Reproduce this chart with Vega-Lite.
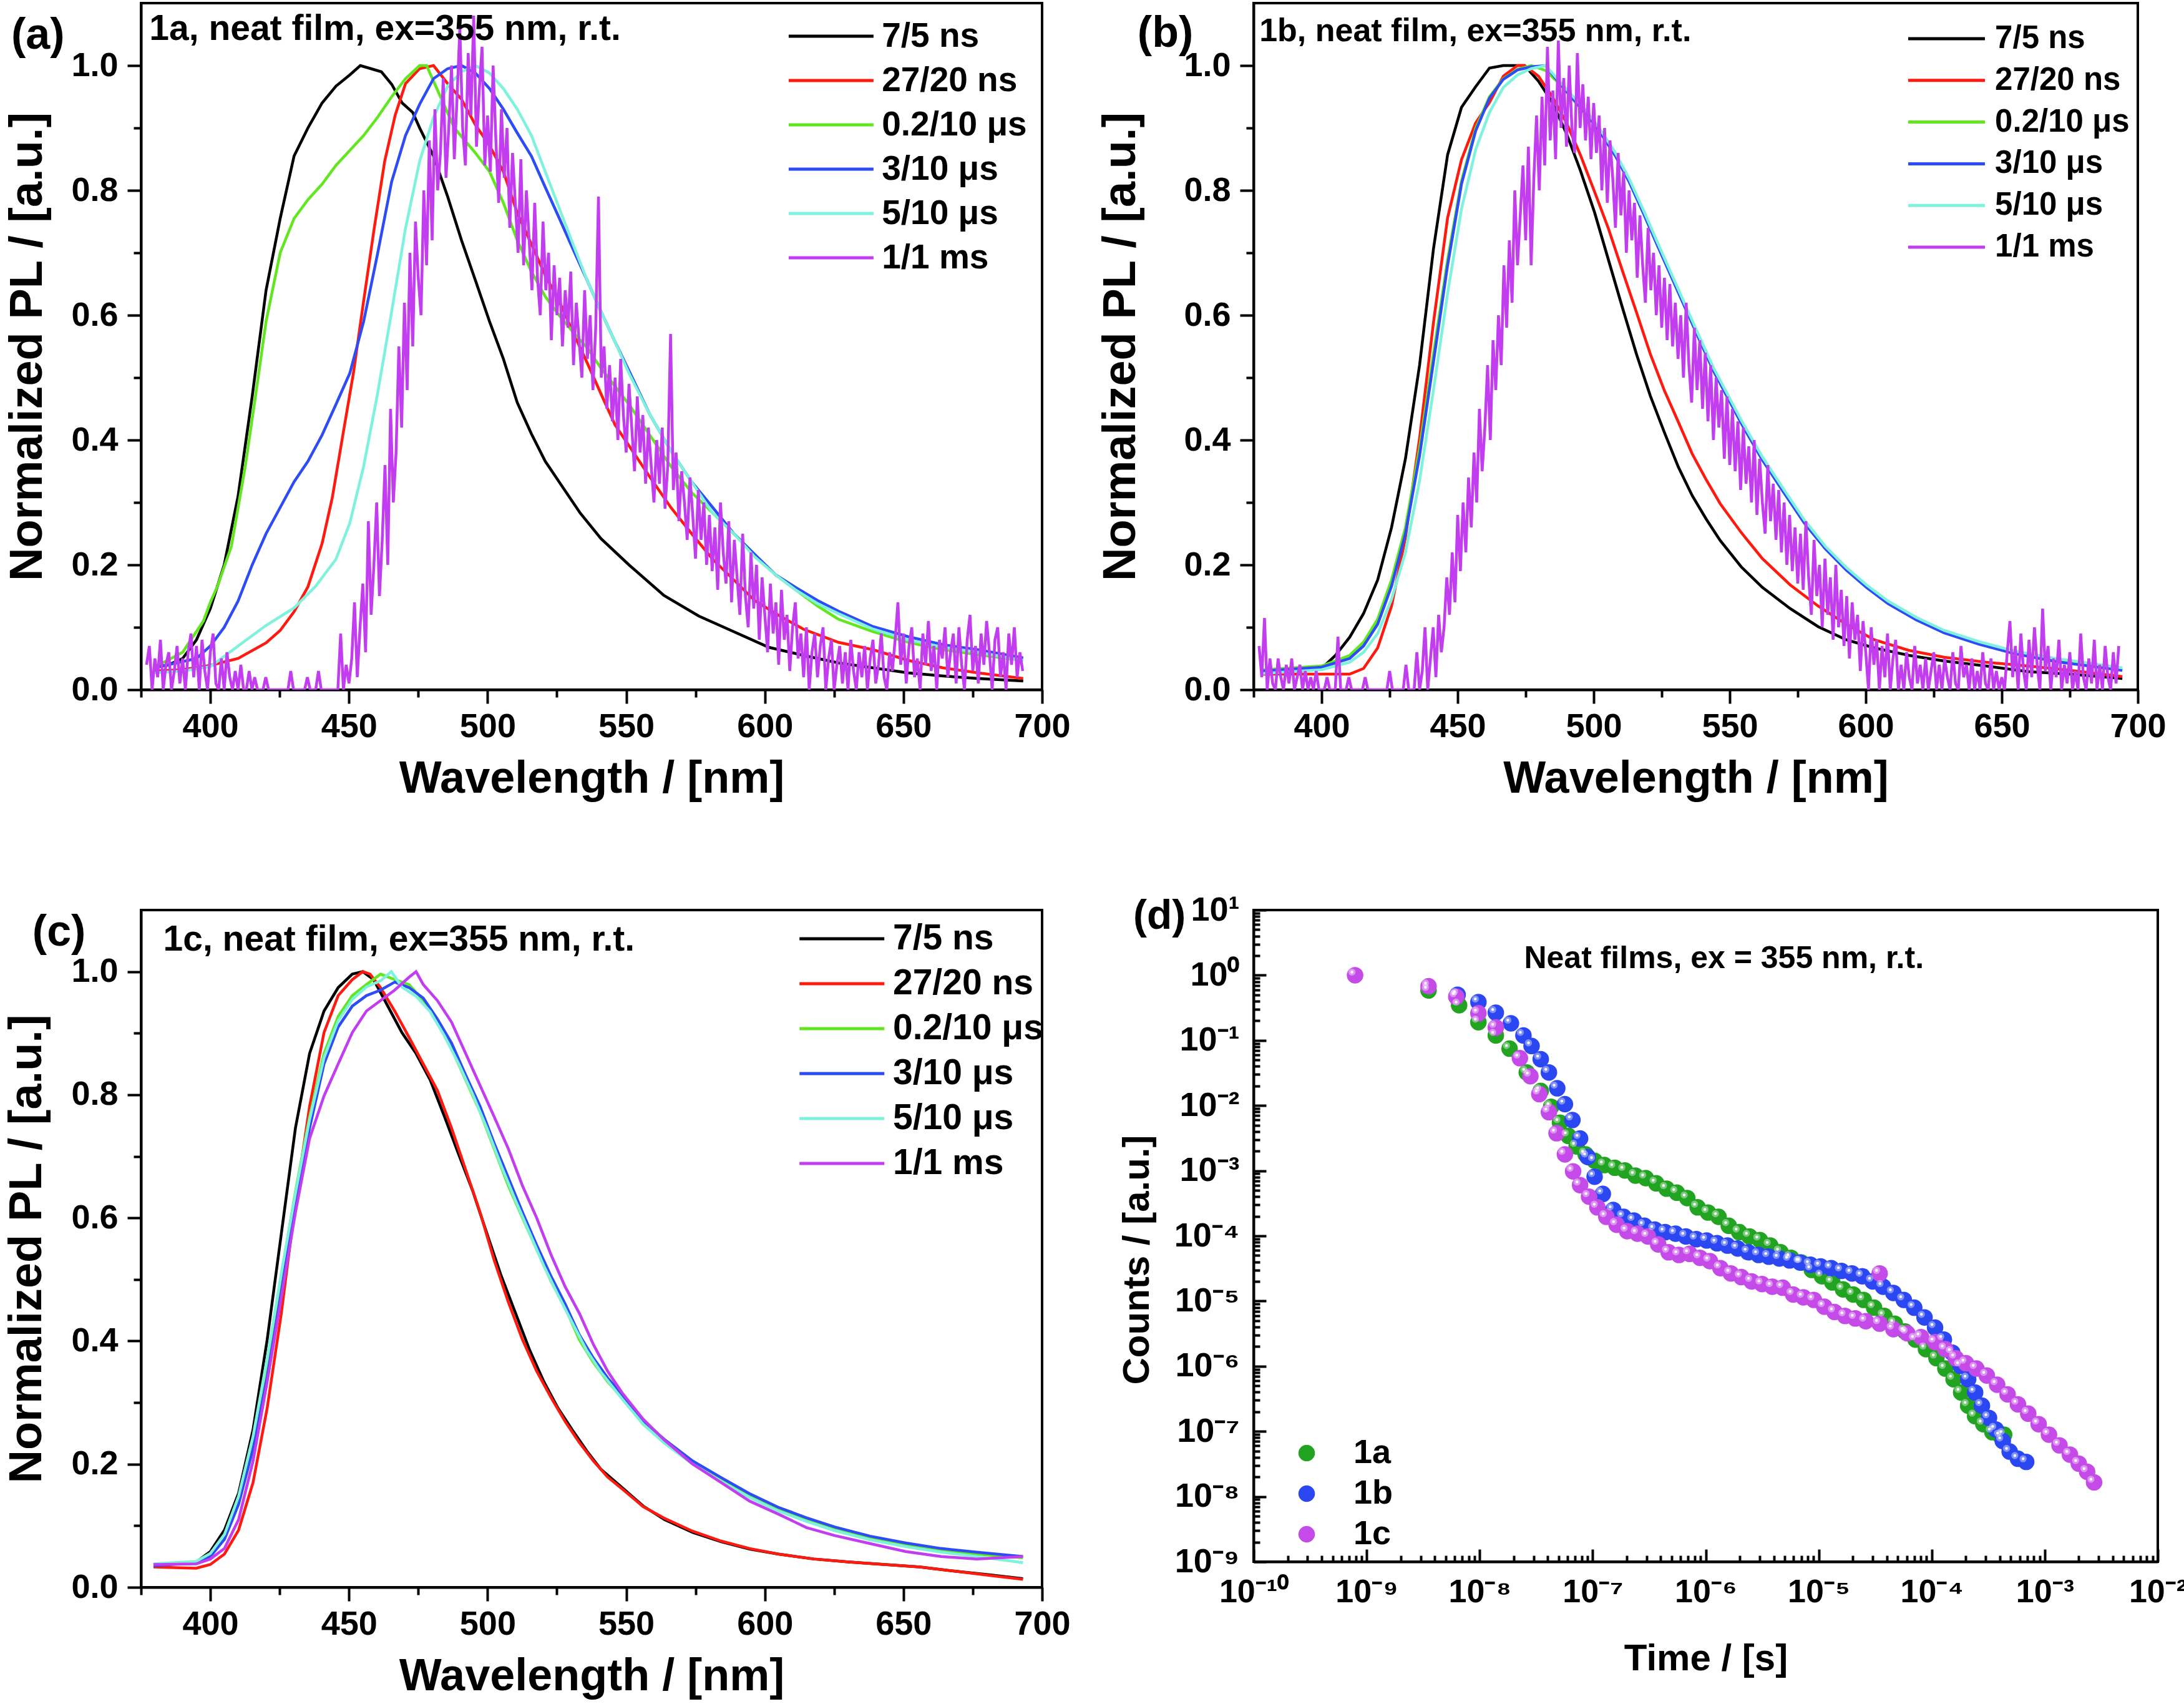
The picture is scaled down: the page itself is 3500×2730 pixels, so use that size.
{
"$schema": "https://vega.github.io/schema/vega-lite/v6.json",
"background": "white",
"padding": {"left": 4, "top": 3, "right": 2, "bottom": 2},
"bounds": "flush",
"columns": 2,
"align": "each",
"center": {"row": true, "column": false},
"spacing": {"row": 353, "column": 339},
"resolve": {"scale": {"color": "independent"}, "legend": {"color": "independent"}},
"datasets": {
"leg": [{"s":"7/5 ns"},{"s":"27/20 ns"},{"s":"0.2/10 μs"},{"s":"3/10 μs"},{"s":"5/10 μs"},{"s":"1/1 ms"}],
"a": [
{"s":"7/5 ns","x":379.4,"y":0.035},{"s":"7/5 ns","x":385,"y":0.04},{"s":"7/5 ns","x":390,"y":0.05},{"s":"7/5 ns","x":395,"y":0.08},{"s":"7/5 ns","x":400,"y":0.13},{"s":"7/5 ns","x":405,"y":0.2},{"s":"7/5 ns","x":410,"y":0.31},{"s":"7/5 ns","x":415.1,"y":0.47},{"s":"7/5 ns","x":420.1,"y":0.64},{"s":"7/5 ns","x":425.2,"y":0.755},{"s":"7/5 ns","x":430.2,"y":0.855},{"s":"7/5 ns","x":435.2,"y":0.9},{"s":"7/5 ns","x":440.3,"y":0.94},{"s":"7/5 ns","x":445.3,"y":0.967},{"s":"7/5 ns","x":450.3,"y":0.985},{"s":"7/5 ns","x":454.1,"y":1.0},{"s":"7/5 ns","x":457.9,"y":0.995},{"s":"7/5 ns","x":461.7,"y":0.99},{"s":"7/5 ns","x":465.4,"y":0.97},{"s":"7/5 ns","x":469.2,"y":0.94},{"s":"7/5 ns","x":473,"y":0.925},{"s":"7/5 ns","x":475.5,"y":0.9},{"s":"7/5 ns","x":480.5,"y":0.855},{"s":"7/5 ns","x":485.6,"y":0.79},{"s":"7/5 ns","x":490.6,"y":0.72},{"s":"7/5 ns","x":495.6,"y":0.656},{"s":"7/5 ns","x":500.7,"y":0.59},{"s":"7/5 ns","x":505.7,"y":0.53},{"s":"7/5 ns","x":510.7,"y":0.46},{"s":"7/5 ns","x":515.8,"y":0.41},{"s":"7/5 ns","x":520.8,"y":0.366},{"s":"7/5 ns","x":525.8,"y":0.333},{"s":"7/5 ns","x":533.4,"y":0.283},{"s":"7/5 ns","x":540.9,"y":0.242},{"s":"7/5 ns","x":551,"y":0.2},{"s":"7/5 ns","x":563.6,"y":0.151},{"s":"7/5 ns","x":576.2,"y":0.118},{"s":"7/5 ns","x":588.8,"y":0.093},{"s":"7/5 ns","x":601.4,"y":0.068},{"s":"7/5 ns","x":613.9,"y":0.055},{"s":"7/5 ns","x":626.5,"y":0.043},{"s":"7/5 ns","x":639.1,"y":0.035},{"s":"7/5 ns","x":651.7,"y":0.027},{"s":"7/5 ns","x":664.3,"y":0.022},{"s":"7/5 ns","x":676.9,"y":0.018},{"s":"7/5 ns","x":693.2,"y":0.014},
{"s":"27/20 ns","x":379.4,"y":0.03},{"s":"27/20 ns","x":390,"y":0.032},{"s":"27/20 ns","x":400,"y":0.039},{"s":"27/20 ns","x":410,"y":0.05},{"s":"27/20 ns","x":420.1,"y":0.075},{"s":"27/20 ns","x":425.2,"y":0.095},{"s":"27/20 ns","x":430.2,"y":0.125},{"s":"27/20 ns","x":435.2,"y":0.165},{"s":"27/20 ns","x":440.3,"y":0.234},{"s":"27/20 ns","x":444,"y":0.308},{"s":"27/20 ns","x":447.8,"y":0.408},{"s":"27/20 ns","x":451.6,"y":0.507},{"s":"27/20 ns","x":455.3,"y":0.623},{"s":"27/20 ns","x":459.1,"y":0.739},{"s":"27/20 ns","x":462.9,"y":0.847},{"s":"27/20 ns","x":466.7,"y":0.921},{"s":"27/20 ns","x":470.4,"y":0.971},{"s":"27/20 ns","x":475.5,"y":0.995},{"s":"27/20 ns","x":480.5,"y":1.0},{"s":"27/20 ns","x":485.6,"y":0.971},{"s":"27/20 ns","x":490.6,"y":0.946},{"s":"27/20 ns","x":495.6,"y":0.905},{"s":"27/20 ns","x":500.7,"y":0.872},{"s":"27/20 ns","x":505.7,"y":0.83},{"s":"27/20 ns","x":510.7,"y":0.764},{"s":"27/20 ns","x":515.8,"y":0.714},{"s":"27/20 ns","x":520.8,"y":0.664},{"s":"27/20 ns","x":525.8,"y":0.623},{"s":"27/20 ns","x":530.8,"y":0.573},{"s":"27/20 ns","x":535.9,"y":0.524},{"s":"27/20 ns","x":540.9,"y":0.474},{"s":"27/20 ns","x":546,"y":0.424},{"s":"27/20 ns","x":551,"y":0.391},{"s":"27/20 ns","x":558.5,"y":0.341},{"s":"27/20 ns","x":566.1,"y":0.292},{"s":"27/20 ns","x":573.6,"y":0.25},{"s":"27/20 ns","x":581.2,"y":0.209},{"s":"27/20 ns","x":588.8,"y":0.176},{"s":"27/20 ns","x":596.3,"y":0.143},{"s":"27/20 ns","x":603.9,"y":0.122},{"s":"27/20 ns","x":613.9,"y":0.097},{"s":"27/20 ns","x":626.5,"y":0.076},{"s":"27/20 ns","x":639.1,"y":0.064},{"s":"27/20 ns","x":651.7,"y":0.047},{"s":"27/20 ns","x":664.3,"y":0.035},{"s":"27/20 ns","x":676.9,"y":0.027},{"s":"27/20 ns","x":693.2,"y":0.018},
{"s":"0.2/10 μs","x":379.4,"y":0.035},{"s":"0.2/10 μs","x":390,"y":0.06},{"s":"0.2/10 μs","x":397.5,"y":0.11},{"s":"0.2/10 μs","x":400,"y":0.14},{"s":"0.2/10 μs","x":402.5,"y":0.165},{"s":"0.2/10 μs","x":407.6,"y":0.23},{"s":"0.2/10 μs","x":412.6,"y":0.358},{"s":"0.2/10 μs","x":416.4,"y":0.474},{"s":"0.2/10 μs","x":420.1,"y":0.59},{"s":"0.2/10 μs","x":425.2,"y":0.7},{"s":"0.2/10 μs","x":430.2,"y":0.755},{"s":"0.2/10 μs","x":435.2,"y":0.785},{"s":"0.2/10 μs","x":440.3,"y":0.81},{"s":"0.2/10 μs","x":445.3,"y":0.84},{"s":"0.2/10 μs","x":450.3,"y":0.864},{"s":"0.2/10 μs","x":455.3,"y":0.888},{"s":"0.2/10 μs","x":460.3,"y":0.917},{"s":"0.2/10 μs","x":465.4,"y":0.95},{"s":"0.2/10 μs","x":470.4,"y":0.979},{"s":"0.2/10 μs","x":475.5,"y":1.0},{"s":"0.2/10 μs","x":478,"y":1.0},{"s":"0.2/10 μs","x":483,"y":0.95},{"s":"0.2/10 μs","x":488,"y":0.9},{"s":"0.2/10 μs","x":495.6,"y":0.86},{"s":"0.2/10 μs","x":500.7,"y":0.83},{"s":"0.2/10 μs","x":505.7,"y":0.78},{"s":"0.2/10 μs","x":510.7,"y":0.72},{"s":"0.2/10 μs","x":515.8,"y":0.67},{"s":"0.2/10 μs","x":520.8,"y":0.63},{"s":"0.2/10 μs","x":525.8,"y":0.6},{"s":"0.2/10 μs","x":530.8,"y":0.573},{"s":"0.2/10 μs","x":535.9,"y":0.548},{"s":"0.2/10 μs","x":540.9,"y":0.515},{"s":"0.2/10 μs","x":546,"y":0.486},{"s":"0.2/10 μs","x":551,"y":0.457},{"s":"0.2/10 μs","x":558.5,"y":0.408},{"s":"0.2/10 μs","x":566.1,"y":0.358},{"s":"0.2/10 μs","x":573.6,"y":0.316},{"s":"0.2/10 μs","x":581.2,"y":0.283},{"s":"0.2/10 μs","x":588.8,"y":0.25},{"s":"0.2/10 μs","x":596.3,"y":0.217},{"s":"0.2/10 μs","x":603.9,"y":0.184},{"s":"0.2/10 μs","x":611.4,"y":0.159},{"s":"0.2/10 μs","x":619,"y":0.134},{"s":"0.2/10 μs","x":626.5,"y":0.113},{"s":"0.2/10 μs","x":639.1,"y":0.093},{"s":"0.2/10 μs","x":651.7,"y":0.076},{"s":"0.2/10 μs","x":664.3,"y":0.064},{"s":"0.2/10 μs","x":676.9,"y":0.056},{"s":"0.2/10 μs","x":693.2,"y":0.047},
{"s":"3/10 μs","x":379.4,"y":0.035},{"s":"3/10 μs","x":390,"y":0.045},{"s":"3/10 μs","x":395,"y":0.05},{"s":"3/10 μs","x":400,"y":0.07},{"s":"3/10 μs","x":405,"y":0.1},{"s":"3/10 μs","x":410,"y":0.142},{"s":"3/10 μs","x":415.1,"y":0.2},{"s":"3/10 μs","x":420.1,"y":0.25},{"s":"3/10 μs","x":425.2,"y":0.292},{"s":"3/10 μs","x":430.2,"y":0.333},{"s":"3/10 μs","x":435.2,"y":0.366},{"s":"3/10 μs","x":440.3,"y":0.408},{"s":"3/10 μs","x":445.3,"y":0.457},{"s":"3/10 μs","x":450.3,"y":0.507},{"s":"3/10 μs","x":455.3,"y":0.59},{"s":"3/10 μs","x":460.3,"y":0.698},{"s":"3/10 μs","x":465.4,"y":0.814},{"s":"3/10 μs","x":470.4,"y":0.888},{"s":"3/10 μs","x":475.5,"y":0.938},{"s":"3/10 μs","x":480.5,"y":0.979},{"s":"3/10 μs","x":485.6,"y":0.995},{"s":"3/10 μs","x":490.6,"y":1.0},{"s":"3/10 μs","x":495.6,"y":0.988},{"s":"3/10 μs","x":500.7,"y":0.963},{"s":"3/10 μs","x":505.7,"y":0.93},{"s":"3/10 μs","x":510.7,"y":0.892},{"s":"3/10 μs","x":515.8,"y":0.855},{"s":"3/10 μs","x":520.8,"y":0.805},{"s":"3/10 μs","x":525.8,"y":0.756},{"s":"3/10 μs","x":530.8,"y":0.706},{"s":"3/10 μs","x":535.9,"y":0.656},{"s":"3/10 μs","x":540.9,"y":0.606},{"s":"3/10 μs","x":546,"y":0.557},{"s":"3/10 μs","x":551,"y":0.511},{"s":"3/10 μs","x":558.5,"y":0.441},{"s":"3/10 μs","x":566.1,"y":0.383},{"s":"3/10 μs","x":573.6,"y":0.333},{"s":"3/10 μs","x":581.2,"y":0.292},{"s":"3/10 μs","x":588.8,"y":0.25},{"s":"3/10 μs","x":596.3,"y":0.217},{"s":"3/10 μs","x":603.9,"y":0.184},{"s":"3/10 μs","x":611.4,"y":0.163},{"s":"3/10 μs","x":619,"y":0.143},{"s":"3/10 μs","x":626.5,"y":0.126},{"s":"3/10 μs","x":639.1,"y":0.101},{"s":"3/10 μs","x":651.7,"y":0.085},{"s":"3/10 μs","x":664.3,"y":0.072},{"s":"3/10 μs","x":676.9,"y":0.064},{"s":"3/10 μs","x":693.2,"y":0.051},
{"s":"5/10 μs","x":379.4,"y":0.027},{"s":"5/10 μs","x":390,"y":0.03},{"s":"5/10 μs","x":400,"y":0.037},{"s":"5/10 μs","x":410,"y":0.07},{"s":"5/10 μs","x":420.1,"y":0.103},{"s":"5/10 μs","x":430.2,"y":0.131},{"s":"5/10 μs","x":438,"y":0.166},{"s":"5/10 μs","x":445.3,"y":0.209},{"s":"5/10 μs","x":450.3,"y":0.267},{"s":"5/10 μs","x":455.3,"y":0.358},{"s":"5/10 μs","x":460.3,"y":0.474},{"s":"5/10 μs","x":465.4,"y":0.606},{"s":"5/10 μs","x":470.4,"y":0.739},{"s":"5/10 μs","x":475.5,"y":0.847},{"s":"5/10 μs","x":480.5,"y":0.917},{"s":"5/10 μs","x":485.6,"y":0.967},{"s":"5/10 μs","x":490.6,"y":0.99},{"s":"5/10 μs","x":495.6,"y":1.0},{"s":"5/10 μs","x":500.7,"y":0.988},{"s":"5/10 μs","x":505.7,"y":0.963},{"s":"5/10 μs","x":510.7,"y":0.93},{"s":"5/10 μs","x":515.8,"y":0.888},{"s":"5/10 μs","x":520.8,"y":0.83},{"s":"5/10 μs","x":525.8,"y":0.772},{"s":"5/10 μs","x":530.8,"y":0.714},{"s":"5/10 μs","x":535.9,"y":0.656},{"s":"5/10 μs","x":540.9,"y":0.606},{"s":"5/10 μs","x":546,"y":0.557},{"s":"5/10 μs","x":551,"y":0.507},{"s":"5/10 μs","x":558.5,"y":0.441},{"s":"5/10 μs","x":566.1,"y":0.383},{"s":"5/10 μs","x":573.6,"y":0.333},{"s":"5/10 μs","x":581.2,"y":0.283},{"s":"5/10 μs","x":588.8,"y":0.25},{"s":"5/10 μs","x":596.3,"y":0.213},{"s":"5/10 μs","x":603.9,"y":0.184},{"s":"5/10 μs","x":611.4,"y":0.159},{"s":"5/10 μs","x":619,"y":0.138},{"s":"5/10 μs","x":626.5,"y":0.122},{"s":"5/10 μs","x":639.1,"y":0.097},{"s":"5/10 μs","x":651.7,"y":0.08},{"s":"5/10 μs","x":664.3,"y":0.068},{"s":"5/10 μs","x":676.9,"y":0.06},{"s":"5/10 μs","x":693.2,"y":0.047},
{"s":"1/1 ms","x":377,"y":0.04},{"s":"1/1 ms","x":378,"y":0.07},{"s":"1/1 ms","x":379,"y":0.0},{"s":"1/1 ms","x":380,"y":0.05},{"s":"1/1 ms","x":381,"y":0.02},{"s":"1/1 ms","x":382,"y":0.08},{"s":"1/1 ms","x":383,"y":0.0},{"s":"1/1 ms","x":384,"y":0.04},{"s":"1/1 ms","x":385,"y":0.06},{"s":"1/1 ms","x":386,"y":0.0},{"s":"1/1 ms","x":387,"y":0.03},{"s":"1/1 ms","x":388,"y":0.07},{"s":"1/1 ms","x":389,"y":0.01},{"s":"1/1 ms","x":390,"y":0.05},{"s":"1/1 ms","x":391,"y":0.0},{"s":"1/1 ms","x":392,"y":0.06},{"s":"1/1 ms","x":393,"y":0.09},{"s":"1/1 ms","x":394,"y":0.02},{"s":"1/1 ms","x":395,"y":0.07},{"s":"1/1 ms","x":396,"y":0.0},{"s":"1/1 ms","x":397,"y":0.08},{"s":"1/1 ms","x":398,"y":0.03},{"s":"1/1 ms","x":399,"y":0.0},{"s":"1/1 ms","x":400,"y":0.06},{"s":"1/1 ms","x":401,"y":0.09},{"s":"1/1 ms","x":402,"y":0.01},{"s":"1/1 ms","x":403,"y":0.0},{"s":"1/1 ms","x":404,"y":0.05},{"s":"1/1 ms","x":405,"y":0.0},{"s":"1/1 ms","x":406,"y":0.06},{"s":"1/1 ms","x":407,"y":0.02},{"s":"1/1 ms","x":408,"y":0.0},{"s":"1/1 ms","x":409,"y":0.03},{"s":"1/1 ms","x":410,"y":0.0},{"s":"1/1 ms","x":411,"y":0.04},{"s":"1/1 ms","x":412,"y":0.0},{"s":"1/1 ms","x":413,"y":0.0},{"s":"1/1 ms","x":414,"y":0.03},{"s":"1/1 ms","x":415,"y":0.0},{"s":"1/1 ms","x":416,"y":0.02},{"s":"1/1 ms","x":417,"y":0.0},{"s":"1/1 ms","x":419,"y":0.0},{"s":"1/1 ms","x":420,"y":0.02},{"s":"1/1 ms","x":421,"y":0.0},{"s":"1/1 ms","x":428,"y":0.0},{"s":"1/1 ms","x":429,"y":0.03},{"s":"1/1 ms","x":430,"y":0.0},{"s":"1/1 ms","x":434,"y":0.0},{"s":"1/1 ms","x":435,"y":0.02},{"s":"1/1 ms","x":436,"y":0.0},{"s":"1/1 ms","x":438,"y":0.0},{"s":"1/1 ms","x":439,"y":0.03},{"s":"1/1 ms","x":440,"y":0.0},{"s":"1/1 ms","x":446,"y":0.0},
{"s":"1/1 ms","x":447,"y":0.09},{"s":"1/1 ms","x":448,"y":0.0},{"s":"1/1 ms","x":449,"y":0.04},{"s":"1/1 ms","x":450,"y":0.01},{"s":"1/1 ms","x":451,"y":0.05},{"s":"1/1 ms","x":452,"y":0.14},{"s":"1/1 ms","x":453,"y":0.02},{"s":"1/1 ms","x":454,"y":0.1},{"s":"1/1 ms","x":455,"y":0.17},{"s":"1/1 ms","x":456,"y":0.06},{"s":"1/1 ms","x":457,"y":0.27},{"s":"1/1 ms","x":458,"y":0.12},{"s":"1/1 ms","x":459,"y":0.2},{"s":"1/1 ms","x":460,"y":0.3},{"s":"1/1 ms","x":461,"y":0.15},{"s":"1/1 ms","x":462,"y":0.24},{"s":"1/1 ms","x":463,"y":0.36},{"s":"1/1 ms","x":464,"y":0.2},{"s":"1/1 ms","x":465,"y":0.45},{"s":"1/1 ms","x":466,"y":0.3},{"s":"1/1 ms","x":467,"y":0.38},{"s":"1/1 ms","x":468,"y":0.55},{"s":"1/1 ms","x":469,"y":0.42},{"s":"1/1 ms","x":470,"y":0.62},{"s":"1/1 ms","x":471,"y":0.48},{"s":"1/1 ms","x":472,"y":0.7},{"s":"1/1 ms","x":473,"y":0.55},{"s":"1/1 ms","x":474,"y":0.75},{"s":"1/1 ms","x":475,"y":0.66},{"s":"1/1 ms","x":476,"y":0.6},{"s":"1/1 ms","x":477,"y":0.8},{"s":"1/1 ms","x":478,"y":0.68},{"s":"1/1 ms","x":479,"y":0.88},{"s":"1/1 ms","x":480,"y":0.72},{"s":"1/1 ms","x":481,"y":0.93},{"s":"1/1 ms","x":482,"y":0.8},{"s":"1/1 ms","x":483,"y":0.86},{"s":"1/1 ms","x":484,"y":0.98},{"s":"1/1 ms","x":485,"y":0.82},{"s":"1/1 ms","x":486,"y":0.9},{"s":"1/1 ms","x":487,"y":1.0},{"s":"1/1 ms","x":488,"y":0.85},{"s":"1/1 ms","x":489,"y":0.95},{"s":"1/1 ms","x":490,"y":1.06},{"s":"1/1 ms","x":491,"y":0.9},{"s":"1/1 ms","x":492,"y":0.84},{"s":"1/1 ms","x":493,"y":1.02},{"s":"1/1 ms","x":494,"y":0.92},{"s":"1/1 ms","x":495,"y":1.08},{"s":"1/1 ms","x":496,"y":0.87},{"s":"1/1 ms","x":497,"y":0.96},{"s":"1/1 ms","x":498,"y":1.03},{"s":"1/1 ms","x":499,"y":0.84},{"s":"1/1 ms","x":500,"y":0.92},{"s":"1/1 ms","x":501,"y":0.83},{"s":"1/1 ms","x":502,"y":1.0},{"s":"1/1 ms","x":503,"y":0.88},{"s":"1/1 ms","x":504,"y":0.78},{"s":"1/1 ms","x":505,"y":0.93},{"s":"1/1 ms","x":506,"y":0.82},{"s":"1/1 ms","x":507,"y":0.9},{"s":"1/1 ms","x":508,"y":0.74},{"s":"1/1 ms","x":509,"y":0.86},{"s":"1/1 ms","x":510,"y":0.78},{"s":"1/1 ms","x":511,"y":0.7},{"s":"1/1 ms","x":512,"y":0.85},{"s":"1/1 ms","x":513,"y":0.68},{"s":"1/1 ms","x":514,"y":0.8},{"s":"1/1 ms","x":515,"y":0.72},{"s":"1/1 ms","x":516,"y":0.64},{"s":"1/1 ms","x":517,"y":0.78},{"s":"1/1 ms","x":518,"y":0.66},{"s":"1/1 ms","x":519,"y":0.6},{"s":"1/1 ms","x":520,"y":0.75},{"s":"1/1 ms","x":521,"y":0.64},{"s":"1/1 ms","x":522,"y":0.7},{"s":"1/1 ms","x":523,"y":0.56},{"s":"1/1 ms","x":524,"y":0.68},{"s":"1/1 ms","x":525,"y":0.6},{"s":"1/1 ms","x":526,"y":0.66},{"s":"1/1 ms","x":527,"y":0.55},{"s":"1/1 ms","x":528,"y":0.64},{"s":"1/1 ms","x":529,"y":0.58},{"s":"1/1 ms","x":530,"y":0.67},{"s":"1/1 ms","x":531,"y":0.52},{"s":"1/1 ms","x":532,"y":0.62},{"s":"1/1 ms","x":533,"y":0.56},{"s":"1/1 ms","x":534,"y":0.5},{"s":"1/1 ms","x":535,"y":0.64},{"s":"1/1 ms","x":536,"y":0.53},{"s":"1/1 ms","x":537,"y":0.6},{"s":"1/1 ms","x":538,"y":0.48},{"s":"1/1 ms","x":539,"y":0.58},{"s":"1/1 ms","x":540,"y":0.79},{"s":"1/1 ms","x":541,"y":0.5},{"s":"1/1 ms","x":542,"y":0.55},{"s":"1/1 ms","x":543,"y":0.45},{"s":"1/1 ms","x":544,"y":0.52},{"s":"1/1 ms","x":545,"y":0.43},{"s":"1/1 ms","x":546,"y":0.5},{"s":"1/1 ms","x":547,"y":0.4},{"s":"1/1 ms","x":548,"y":0.53},{"s":"1/1 ms","x":549,"y":0.44},{"s":"1/1 ms","x":550,"y":0.38},{"s":"1/1 ms","x":551,"y":0.49},{"s":"1/1 ms","x":552,"y":0.42},{"s":"1/1 ms","x":553,"y":0.35},{"s":"1/1 ms","x":554,"y":0.47},{"s":"1/1 ms","x":555,"y":0.38},{"s":"1/1 ms","x":556,"y":0.44},{"s":"1/1 ms","x":557,"y":0.33},{"s":"1/1 ms","x":558,"y":0.42},{"s":"1/1 ms","x":559,"y":0.36},{"s":"1/1 ms","x":560,"y":0.3},{"s":"1/1 ms","x":561,"y":0.4},{"s":"1/1 ms","x":562,"y":0.33},{"s":"1/1 ms","x":563,"y":0.42},{"s":"1/1 ms","x":564,"y":0.29},{"s":"1/1 ms","x":565,"y":0.36},{"s":"1/1 ms","x":566,"y":0.57},{"s":"1/1 ms","x":567,"y":0.32},{"s":"1/1 ms","x":568,"y":0.38},{"s":"1/1 ms","x":569,"y":0.27},{"s":"1/1 ms","x":570,"y":0.35},{"s":"1/1 ms","x":571,"y":0.3},{"s":"1/1 ms","x":572,"y":0.24},{"s":"1/1 ms","x":573,"y":0.34},{"s":"1/1 ms","x":574,"y":0.28},{"s":"1/1 ms","x":575,"y":0.21},{"s":"1/1 ms","x":576,"y":0.32},{"s":"1/1 ms","x":577,"y":0.24},{"s":"1/1 ms","x":578,"y":0.3},{"s":"1/1 ms","x":579,"y":0.2},{"s":"1/1 ms","x":580,"y":0.28},{"s":"1/1 ms","x":581,"y":0.19},{"s":"1/1 ms","x":582,"y":0.26},{"s":"1/1 ms","x":583,"y":0.16},{"s":"1/1 ms","x":584,"y":0.3},{"s":"1/1 ms","x":585,"y":0.22},{"s":"1/1 ms","x":586,"y":0.17},{"s":"1/1 ms","x":587,"y":0.27},{"s":"1/1 ms","x":588,"y":0.14},{"s":"1/1 ms","x":589,"y":0.24},{"s":"1/1 ms","x":590,"y":0.18},{"s":"1/1 ms","x":591,"y":0.12},{"s":"1/1 ms","x":592,"y":0.25},{"s":"1/1 ms","x":593,"y":0.15},{"s":"1/1 ms","x":594,"y":0.1},{"s":"1/1 ms","x":595,"y":0.22},{"s":"1/1 ms","x":596,"y":0.13},{"s":"1/1 ms","x":597,"y":0.2},{"s":"1/1 ms","x":598,"y":0.08},{"s":"1/1 ms","x":599,"y":0.18},{"s":"1/1 ms","x":600,"y":0.12},{"s":"1/1 ms","x":601,"y":0.06},{"s":"1/1 ms","x":602,"y":0.17},{"s":"1/1 ms","x":603,"y":0.09},{"s":"1/1 ms","x":604,"y":0.14},{"s":"1/1 ms","x":605,"y":0.04},{"s":"1/1 ms","x":606,"y":0.16},{"s":"1/1 ms","x":607,"y":0.08},{"s":"1/1 ms","x":608,"y":0.12},{"s":"1/1 ms","x":609,"y":0.03},{"s":"1/1 ms","x":610,"y":0.1},{"s":"1/1 ms","x":611,"y":0.14},{"s":"1/1 ms","x":612,"y":0.05},{"s":"1/1 ms","x":613,"y":0.09},{"s":"1/1 ms","x":614,"y":0.02},{"s":"1/1 ms","x":615,"y":0.1},{"s":"1/1 ms","x":616,"y":0.0},{"s":"1/1 ms","x":617,"y":0.06},{"s":"1/1 ms","x":618,"y":0.09},{"s":"1/1 ms","x":619,"y":0.02},{"s":"1/1 ms","x":620,"y":0.07},{"s":"1/1 ms","x":621,"y":0.1},{"s":"1/1 ms","x":622,"y":0.0},{"s":"1/1 ms","x":623,"y":0.05},{"s":"1/1 ms","x":624,"y":0.08},{"s":"1/1 ms","x":625,"y":0.0},{"s":"1/1 ms","x":626,"y":0.04},{"s":"1/1 ms","x":627,"y":0.07},{"s":"1/1 ms","x":628,"y":0.01},{"s":"1/1 ms","x":629,"y":0.06},{"s":"1/1 ms","x":630,"y":0.0},{"s":"1/1 ms","x":631,"y":0.08},{"s":"1/1 ms","x":632,"y":0.03},{"s":"1/1 ms","x":633,"y":0.0},{"s":"1/1 ms","x":634,"y":0.06},{"s":"1/1 ms","x":635,"y":0.02},{"s":"1/1 ms","x":636,"y":0.07},{"s":"1/1 ms","x":637,"y":0.0},{"s":"1/1 ms","x":638,"y":0.05},{"s":"1/1 ms","x":639,"y":0.08},{"s":"1/1 ms","x":640,"y":0.01},{"s":"1/1 ms","x":641,"y":0.04},{"s":"1/1 ms","x":642,"y":0.09},{"s":"1/1 ms","x":643,"y":0.02},{"s":"1/1 ms","x":644,"y":0.0},{"s":"1/1 ms","x":645,"y":0.06},{"s":"1/1 ms","x":646,"y":0.03},{"s":"1/1 ms","x":647,"y":0.08},{"s":"1/1 ms","x":648,"y":0.14},{"s":"1/1 ms","x":649,"y":0.04},{"s":"1/1 ms","x":650,"y":0.09},{"s":"1/1 ms","x":651,"y":0.01},{"s":"1/1 ms","x":652,"y":0.07},{"s":"1/1 ms","x":653,"y":0.1},{"s":"1/1 ms","x":654,"y":0.02},{"s":"1/1 ms","x":655,"y":0.05},{"s":"1/1 ms","x":656,"y":0.0},{"s":"1/1 ms","x":657,"y":0.09},{"s":"1/1 ms","x":658,"y":0.04},{"s":"1/1 ms","x":659,"y":0.11},{"s":"1/1 ms","x":660,"y":0.03},{"s":"1/1 ms","x":661,"y":0.07},{"s":"1/1 ms","x":662,"y":0.0},{"s":"1/1 ms","x":663,"y":0.08},{"s":"1/1 ms","x":664,"y":0.05},{"s":"1/1 ms","x":665,"y":0.1},{"s":"1/1 ms","x":666,"y":0.02},{"s":"1/1 ms","x":667,"y":0.06},{"s":"1/1 ms","x":668,"y":0.09},{"s":"1/1 ms","x":669,"y":0.01},{"s":"1/1 ms","x":670,"y":0.1},{"s":"1/1 ms","x":671,"y":0.04},{"s":"1/1 ms","x":672,"y":0.0},{"s":"1/1 ms","x":673,"y":0.08},{"s":"1/1 ms","x":674,"y":0.12},{"s":"1/1 ms","x":675,"y":0.03},{"s":"1/1 ms","x":676,"y":0.07},{"s":"1/1 ms","x":677,"y":0.01},{"s":"1/1 ms","x":678,"y":0.09},{"s":"1/1 ms","x":679,"y":0.04},{"s":"1/1 ms","x":680,"y":0.11},{"s":"1/1 ms","x":681,"y":0.06},{"s":"1/1 ms","x":682,"y":0.0},{"s":"1/1 ms","x":683,"y":0.08},{"s":"1/1 ms","x":684,"y":0.1},{"s":"1/1 ms","x":685,"y":0.02},{"s":"1/1 ms","x":686,"y":0.06},{"s":"1/1 ms","x":687,"y":0.0},{"s":"1/1 ms","x":688,"y":0.09},{"s":"1/1 ms","x":689,"y":0.04},{"s":"1/1 ms","x":690,"y":0.1},{"s":"1/1 ms","x":691,"y":0.02},{"s":"1/1 ms","x":692,"y":0.06},{"s":"1/1 ms","x":693,"y":0.03}
],
"b": [
{"s":"7/5 ns","x":378.1,"y":0.029},{"s":"7/5 ns","x":400,"y":0.034},{"s":"7/5 ns","x":405.1,"y":0.055},{"s":"7/5 ns","x":410.3,"y":0.084},{"s":"7/5 ns","x":415.4,"y":0.122},{"s":"7/5 ns","x":420.6,"y":0.176},{"s":"7/5 ns","x":425.7,"y":0.26},{"s":"7/5 ns","x":430.8,"y":0.37},{"s":"7/5 ns","x":436,"y":0.52},{"s":"7/5 ns","x":441.1,"y":0.706},{"s":"7/5 ns","x":446.3,"y":0.857},{"s":"7/5 ns","x":451.4,"y":0.933},{"s":"7/5 ns","x":456.6,"y":0.966},{"s":"7/5 ns","x":461.7,"y":0.996},{"s":"7/5 ns","x":466.8,"y":1.0},{"s":"7/5 ns","x":474.6,"y":1.0},{"s":"7/5 ns","x":479.7,"y":0.975},{"s":"7/5 ns","x":484.8,"y":0.941},{"s":"7/5 ns","x":490,"y":0.891},{"s":"7/5 ns","x":495.1,"y":0.832},{"s":"7/5 ns","x":500.3,"y":0.765},{"s":"7/5 ns","x":505.4,"y":0.689},{"s":"7/5 ns","x":510.5,"y":0.613},{"s":"7/5 ns","x":515.7,"y":0.538},{"s":"7/5 ns","x":520.8,"y":0.471},{"s":"7/5 ns","x":526,"y":0.412},{"s":"7/5 ns","x":531.1,"y":0.357},{"s":"7/5 ns","x":536.2,"y":0.311},{"s":"7/5 ns","x":541.4,"y":0.273},{"s":"7/5 ns","x":546.5,"y":0.239},{"s":"7/5 ns","x":554.2,"y":0.197},{"s":"7/5 ns","x":562,"y":0.164},{"s":"7/5 ns","x":572.2,"y":0.13},{"s":"7/5 ns","x":582.5,"y":0.101},{"s":"7/5 ns","x":592.8,"y":0.08},{"s":"7/5 ns","x":603.1,"y":0.067},{"s":"7/5 ns","x":615.9,"y":0.055},{"s":"7/5 ns","x":628.8,"y":0.046},{"s":"7/5 ns","x":644.2,"y":0.038},{"s":"7/5 ns","x":659.6,"y":0.029},{"s":"7/5 ns","x":675.1,"y":0.025},{"s":"7/5 ns","x":694.3,"y":0.018},
{"s":"27/20 ns","x":378.1,"y":0.025},{"s":"27/20 ns","x":400,"y":0.025},{"s":"27/20 ns","x":410.3,"y":0.025},{"s":"27/20 ns","x":415.4,"y":0.034},{"s":"27/20 ns","x":420.6,"y":0.067},{"s":"27/20 ns","x":425.7,"y":0.134},{"s":"27/20 ns","x":430.8,"y":0.244},{"s":"27/20 ns","x":436,"y":0.403},{"s":"27/20 ns","x":441.1,"y":0.588},{"s":"27/20 ns","x":446.3,"y":0.756},{"s":"27/20 ns","x":451.4,"y":0.849},{"s":"27/20 ns","x":456.6,"y":0.908},{"s":"27/20 ns","x":461.7,"y":0.941},{"s":"27/20 ns","x":466.8,"y":0.983},{"s":"27/20 ns","x":472,"y":1.0},{"s":"27/20 ns","x":474.6,"y":1.0},{"s":"27/20 ns","x":479.7,"y":0.983},{"s":"27/20 ns","x":484.8,"y":0.95},{"s":"27/20 ns","x":490,"y":0.908},{"s":"27/20 ns","x":495.1,"y":0.857},{"s":"27/20 ns","x":500.3,"y":0.798},{"s":"27/20 ns","x":505.4,"y":0.739},{"s":"27/20 ns","x":510.5,"y":0.672},{"s":"27/20 ns","x":515.7,"y":0.605},{"s":"27/20 ns","x":520.8,"y":0.538},{"s":"27/20 ns","x":526,"y":0.479},{"s":"27/20 ns","x":531.1,"y":0.429},{"s":"27/20 ns","x":536.2,"y":0.378},{"s":"27/20 ns","x":541.4,"y":0.336},{"s":"27/20 ns","x":546.5,"y":0.298},{"s":"27/20 ns","x":554.2,"y":0.252},{"s":"27/20 ns","x":562,"y":0.21},{"s":"27/20 ns","x":572.2,"y":0.168},{"s":"27/20 ns","x":582.5,"y":0.134},{"s":"27/20 ns","x":592.8,"y":0.105},{"s":"27/20 ns","x":603.1,"y":0.08},{"s":"27/20 ns","x":615.9,"y":0.063},{"s":"27/20 ns","x":628.8,"y":0.052},{"s":"27/20 ns","x":644.2,"y":0.044},{"s":"27/20 ns","x":659.6,"y":0.038},{"s":"27/20 ns","x":675.1,"y":0.031},{"s":"27/20 ns","x":694.3,"y":0.021},
{"s":"0.2/10 μs","x":378.1,"y":0.032},{"s":"0.2/10 μs","x":400,"y":0.038},{"s":"0.2/10 μs","x":410.3,"y":0.055},{"s":"0.2/10 μs","x":415.4,"y":0.076},{"s":"0.2/10 μs","x":420.6,"y":0.113},{"s":"0.2/10 μs","x":425.7,"y":0.176},{"s":"0.2/10 μs","x":430.8,"y":0.26},{"s":"0.2/10 μs","x":436,"y":0.387},{"s":"0.2/10 μs","x":441.1,"y":0.538},{"s":"0.2/10 μs","x":446.3,"y":0.689},{"s":"0.2/10 μs","x":451.4,"y":0.815},{"s":"0.2/10 μs","x":456.6,"y":0.899},{"s":"0.2/10 μs","x":461.7,"y":0.95},{"s":"0.2/10 μs","x":466.8,"y":0.979},{"s":"0.2/10 μs","x":472,"y":0.994},{"s":"0.2/10 μs","x":477.1,"y":1.0},{"s":"0.2/10 μs","x":482.3,"y":0.992},{"s":"0.2/10 μs","x":487.4,"y":0.971},{"s":"0.2/10 μs","x":492.5,"y":0.945},{"s":"0.2/10 μs","x":497.7,"y":0.92},{"s":"0.2/10 μs","x":502.8,"y":0.891},{"s":"0.2/10 μs","x":508,"y":0.857},{"s":"0.2/10 μs","x":513.1,"y":0.815},{"s":"0.2/10 μs","x":518.3,"y":0.765},{"s":"0.2/10 μs","x":523.4,"y":0.714},{"s":"0.2/10 μs","x":528.5,"y":0.664},{"s":"0.2/10 μs","x":533.7,"y":0.613},{"s":"0.2/10 μs","x":538.8,"y":0.563},{"s":"0.2/10 μs","x":544,"y":0.513},{"s":"0.2/10 μs","x":549.1,"y":0.471},{"s":"0.2/10 μs","x":554.2,"y":0.429},{"s":"0.2/10 μs","x":562,"y":0.37},{"s":"0.2/10 μs","x":569.7,"y":0.319},{"s":"0.2/10 μs","x":577.4,"y":0.269},{"s":"0.2/10 μs","x":585.1,"y":0.227},{"s":"0.2/10 μs","x":592.8,"y":0.193},{"s":"0.2/10 μs","x":600.5,"y":0.164},{"s":"0.2/10 μs","x":608.2,"y":0.139},{"s":"0.2/10 μs","x":618.5,"y":0.113},{"s":"0.2/10 μs","x":628.8,"y":0.092},{"s":"0.2/10 μs","x":641.6,"y":0.074},{"s":"0.2/10 μs","x":654.5,"y":0.059},{"s":"0.2/10 μs","x":669.9,"y":0.046},{"s":"0.2/10 μs","x":694.3,"y":0.032},
{"s":"3/10 μs","x":378.1,"y":0.03},{"s":"3/10 μs","x":400,"y":0.036},{"s":"3/10 μs","x":410.3,"y":0.05},{"s":"3/10 μs","x":415.4,"y":0.07},{"s":"3/10 μs","x":420.6,"y":0.105},{"s":"3/10 μs","x":425.7,"y":0.166},{"s":"3/10 μs","x":430.8,"y":0.25},{"s":"3/10 μs","x":436,"y":0.375},{"s":"3/10 μs","x":441.1,"y":0.525},{"s":"3/10 μs","x":446.3,"y":0.68},{"s":"3/10 μs","x":451.4,"y":0.81},{"s":"3/10 μs","x":456.6,"y":0.895},{"s":"3/10 μs","x":461.7,"y":0.948},{"s":"3/10 μs","x":466.8,"y":0.978},{"s":"3/10 μs","x":472,"y":0.993},{"s":"3/10 μs","x":477.1,"y":0.998},{"s":"3/10 μs","x":482.3,"y":1.0},{"s":"3/10 μs","x":487.4,"y":0.972},{"s":"3/10 μs","x":492.5,"y":0.946},{"s":"3/10 μs","x":497.7,"y":0.92},{"s":"3/10 μs","x":502.8,"y":0.89},{"s":"3/10 μs","x":508,"y":0.855},{"s":"3/10 μs","x":513.1,"y":0.813},{"s":"3/10 μs","x":518.3,"y":0.763},{"s":"3/10 μs","x":523.4,"y":0.712},{"s":"3/10 μs","x":528.5,"y":0.662},{"s":"3/10 μs","x":533.7,"y":0.611},{"s":"3/10 μs","x":538.8,"y":0.561},{"s":"3/10 μs","x":544,"y":0.511},{"s":"3/10 μs","x":549.1,"y":0.469},{"s":"3/10 μs","x":554.2,"y":0.427},{"s":"3/10 μs","x":562,"y":0.368},{"s":"3/10 μs","x":569.7,"y":0.317},{"s":"3/10 μs","x":577.4,"y":0.267},{"s":"3/10 μs","x":585.1,"y":0.226},{"s":"3/10 μs","x":592.8,"y":0.192},{"s":"3/10 μs","x":600.5,"y":0.163},{"s":"3/10 μs","x":608.2,"y":0.138},{"s":"3/10 μs","x":618.5,"y":0.112},{"s":"3/10 μs","x":628.8,"y":0.091},{"s":"3/10 μs","x":641.6,"y":0.073},{"s":"3/10 μs","x":654.5,"y":0.058},{"s":"3/10 μs","x":669.9,"y":0.045},{"s":"3/10 μs","x":694.3,"y":0.031},
{"s":"5/10 μs","x":378.1,"y":0.026},{"s":"5/10 μs","x":400,"y":0.032},{"s":"5/10 μs","x":410.3,"y":0.044},{"s":"5/10 μs","x":415.4,"y":0.06},{"s":"5/10 μs","x":420.6,"y":0.09},{"s":"5/10 μs","x":425.7,"y":0.145},{"s":"5/10 μs","x":430.8,"y":0.22},{"s":"5/10 μs","x":436,"y":0.335},{"s":"5/10 μs","x":441.1,"y":0.48},{"s":"5/10 μs","x":446.3,"y":0.635},{"s":"5/10 μs","x":451.4,"y":0.77},{"s":"5/10 μs","x":456.6,"y":0.865},{"s":"5/10 μs","x":461.7,"y":0.925},{"s":"5/10 μs","x":466.8,"y":0.965},{"s":"5/10 μs","x":472,"y":0.985},{"s":"5/10 μs","x":477.1,"y":0.995},{"s":"5/10 μs","x":482.3,"y":1.0},{"s":"5/10 μs","x":487.4,"y":0.975},{"s":"5/10 μs","x":492.5,"y":0.95},{"s":"5/10 μs","x":497.7,"y":0.925},{"s":"5/10 μs","x":502.8,"y":0.895},{"s":"5/10 μs","x":508,"y":0.86},{"s":"5/10 μs","x":513.1,"y":0.818},{"s":"5/10 μs","x":518.3,"y":0.768},{"s":"5/10 μs","x":523.4,"y":0.717},{"s":"5/10 μs","x":528.5,"y":0.667},{"s":"5/10 μs","x":533.7,"y":0.616},{"s":"5/10 μs","x":538.8,"y":0.566},{"s":"5/10 μs","x":544,"y":0.516},{"s":"5/10 μs","x":549.1,"y":0.474},{"s":"5/10 μs","x":554.2,"y":0.432},{"s":"5/10 μs","x":562,"y":0.373},{"s":"5/10 μs","x":569.7,"y":0.322},{"s":"5/10 μs","x":577.4,"y":0.272},{"s":"5/10 μs","x":585.1,"y":0.23},{"s":"5/10 μs","x":592.8,"y":0.196},{"s":"5/10 μs","x":600.5,"y":0.167},{"s":"5/10 μs","x":608.2,"y":0.142},{"s":"5/10 μs","x":618.5,"y":0.116},{"s":"5/10 μs","x":628.8,"y":0.095},{"s":"5/10 μs","x":641.6,"y":0.077},{"s":"5/10 μs","x":654.5,"y":0.062},{"s":"5/10 μs","x":669.9,"y":0.05},{"s":"5/10 μs","x":694.3,"y":0.035},
{"s":"1/1 ms","x":377,"y":0.07},{"s":"1/1 ms","x":378,"y":0.02},{"s":"1/1 ms","x":379,"y":0.115},{"s":"1/1 ms","x":380,"y":0.0},{"s":"1/1 ms","x":381,"y":0.05},{"s":"1/1 ms","x":382,"y":0.01},{"s":"1/1 ms","x":383,"y":0.0},{"s":"1/1 ms","x":384,"y":0.05},{"s":"1/1 ms","x":385,"y":0.02},{"s":"1/1 ms","x":386,"y":0.0},{"s":"1/1 ms","x":387,"y":0.04},{"s":"1/1 ms","x":388,"y":0.01},{"s":"1/1 ms","x":389,"y":0.05},{"s":"1/1 ms","x":390,"y":0.0},{"s":"1/1 ms","x":391,"y":0.02},{"s":"1/1 ms","x":392,"y":0.04},{"s":"1/1 ms","x":393,"y":0.0},{"s":"1/1 ms","x":394,"y":0.03},{"s":"1/1 ms","x":395,"y":0.0},{"s":"1/1 ms","x":396,"y":0.02},{"s":"1/1 ms","x":397,"y":0.0},{"s":"1/1 ms","x":398,"y":0.03},{"s":"1/1 ms","x":399,"y":0.0},{"s":"1/1 ms","x":401,"y":0.0},{"s":"1/1 ms","x":402,"y":0.02},{"s":"1/1 ms","x":403,"y":0.0},{"s":"1/1 ms","x":405,"y":0.0},{"s":"1/1 ms","x":406,"y":0.085},{"s":"1/1 ms","x":407,"y":0.0},{"s":"1/1 ms","x":409,"y":0.0},{"s":"1/1 ms","x":410,"y":0.02},{"s":"1/1 ms","x":411,"y":0.0},{"s":"1/1 ms","x":415,"y":0.0},{"s":"1/1 ms","x":416,"y":0.02},{"s":"1/1 ms","x":417,"y":0.0},{"s":"1/1 ms","x":424,"y":0.0},{"s":"1/1 ms","x":425,"y":0.03},{"s":"1/1 ms","x":426,"y":0.0},{"s":"1/1 ms","x":430,"y":0.0},{"s":"1/1 ms","x":431,"y":0.04},{"s":"1/1 ms","x":432,"y":0.0},{"s":"1/1 ms","x":434,"y":0.0},{"s":"1/1 ms","x":435,"y":0.06},{"s":"1/1 ms","x":436,"y":0.0},{"s":"1/1 ms","x":437,"y":0.03},{"s":"1/1 ms","x":438,"y":0.1},{"s":"1/1 ms","x":439,"y":0.0},{"s":"1/1 ms","x":440,"y":0.05},{"s":"1/1 ms","x":441,"y":0.1},{"s":"1/1 ms","x":442,"y":0.02},{"s":"1/1 ms","x":443,"y":0.12},{"s":"1/1 ms","x":444,"y":0.06},{"s":"1/1 ms","x":445,"y":0.1},{"s":"1/1 ms","x":446,"y":0.18},{"s":"1/1 ms","x":447,"y":0.12},{"s":"1/1 ms","x":448,"y":0.22},{"s":"1/1 ms","x":449,"y":0.14},{"s":"1/1 ms","x":450,"y":0.28},{"s":"1/1 ms","x":451,"y":0.19},{"s":"1/1 ms","x":452,"y":0.3},{"s":"1/1 ms","x":453,"y":0.22},{"s":"1/1 ms","x":454,"y":0.34},{"s":"1/1 ms","x":455,"y":0.26},{"s":"1/1 ms","x":456,"y":0.38},{"s":"1/1 ms","x":457,"y":0.3},{"s":"1/1 ms","x":458,"y":0.45},{"s":"1/1 ms","x":459,"y":0.35},{"s":"1/1 ms","x":460,"y":0.42},{"s":"1/1 ms","x":461,"y":0.52},{"s":"1/1 ms","x":462,"y":0.4},{"s":"1/1 ms","x":463,"y":0.56},{"s":"1/1 ms","x":464,"y":0.48},{"s":"1/1 ms","x":465,"y":0.6},{"s":"1/1 ms","x":466,"y":0.52},{"s":"1/1 ms","x":467,"y":0.68},{"s":"1/1 ms","x":468,"y":0.58},{"s":"1/1 ms","x":469,"y":0.72},{"s":"1/1 ms","x":470,"y":0.62},{"s":"1/1 ms","x":471,"y":0.8},{"s":"1/1 ms","x":472,"y":0.68},{"s":"1/1 ms","x":473,"y":0.76},{"s":"1/1 ms","x":474,"y":0.84},{"s":"1/1 ms","x":475,"y":0.72},{"s":"1/1 ms","x":476,"y":0.87},{"s":"1/1 ms","x":477,"y":0.68},{"s":"1/1 ms","x":478,"y":0.82},{"s":"1/1 ms","x":479,"y":0.92},{"s":"1/1 ms","x":480,"y":0.8},{"s":"1/1 ms","x":481,"y":0.95},{"s":"1/1 ms","x":482,"y":0.84},{"s":"1/1 ms","x":483,"y":1.03},{"s":"1/1 ms","x":484,"y":0.88},{"s":"1/1 ms","x":485,"y":0.96},{"s":"1/1 ms","x":486,"y":0.85},{"s":"1/1 ms","x":487,"y":1.04},{"s":"1/1 ms","x":488,"y":0.9},{"s":"1/1 ms","x":489,"y":0.98},{"s":"1/1 ms","x":490,"y":0.87},{"s":"1/1 ms","x":491,"y":1.0},{"s":"1/1 ms","x":492,"y":0.9},{"s":"1/1 ms","x":493,"y":0.86},{"s":"1/1 ms","x":494,"y":1.02},{"s":"1/1 ms","x":495,"y":0.9},{"s":"1/1 ms","x":496,"y":0.97},{"s":"1/1 ms","x":497,"y":0.88},{"s":"1/1 ms","x":498,"y":0.95},{"s":"1/1 ms","x":499,"y":0.85},{"s":"1/1 ms","x":500,"y":0.94},{"s":"1/1 ms","x":501,"y":0.86},{"s":"1/1 ms","x":502,"y":0.92},{"s":"1/1 ms","x":503,"y":0.8},{"s":"1/1 ms","x":504,"y":0.9},{"s":"1/1 ms","x":505,"y":0.78},{"s":"1/1 ms","x":506,"y":0.88},{"s":"1/1 ms","x":507,"y":0.82},{"s":"1/1 ms","x":508,"y":0.74},{"s":"1/1 ms","x":509,"y":0.86},{"s":"1/1 ms","x":510,"y":0.76},{"s":"1/1 ms","x":511,"y":0.83},{"s":"1/1 ms","x":512,"y":0.7},{"s":"1/1 ms","x":513,"y":0.8},{"s":"1/1 ms","x":514,"y":0.72},{"s":"1/1 ms","x":515,"y":0.78},{"s":"1/1 ms","x":516,"y":0.66},{"s":"1/1 ms","x":517,"y":0.76},{"s":"1/1 ms","x":518,"y":0.68},{"s":"1/1 ms","x":519,"y":0.62},{"s":"1/1 ms","x":520,"y":0.74},{"s":"1/1 ms","x":521,"y":0.64},{"s":"1/1 ms","x":522,"y":0.7},{"s":"1/1 ms","x":523,"y":0.6},{"s":"1/1 ms","x":524,"y":0.68},{"s":"1/1 ms","x":525,"y":0.58},{"s":"1/1 ms","x":526,"y":0.66},{"s":"1/1 ms","x":527,"y":0.56},{"s":"1/1 ms","x":528,"y":0.65},{"s":"1/1 ms","x":529,"y":0.55},{"s":"1/1 ms","x":530,"y":0.62},{"s":"1/1 ms","x":531,"y":0.53},{"s":"1/1 ms","x":532,"y":0.6},{"s":"1/1 ms","x":533,"y":0.5},{"s":"1/1 ms","x":534,"y":0.62},{"s":"1/1 ms","x":535,"y":0.52},{"s":"1/1 ms","x":536,"y":0.46},{"s":"1/1 ms","x":537,"y":0.58},{"s":"1/1 ms","x":538,"y":0.48},{"s":"1/1 ms","x":539,"y":0.56},{"s":"1/1 ms","x":540,"y":0.45},{"s":"1/1 ms","x":541,"y":0.54},{"s":"1/1 ms","x":542,"y":0.43},{"s":"1/1 ms","x":543,"y":0.52},{"s":"1/1 ms","x":544,"y":0.4},{"s":"1/1 ms","x":545,"y":0.5},{"s":"1/1 ms","x":546,"y":0.42},{"s":"1/1 ms","x":547,"y":0.48},{"s":"1/1 ms","x":548,"y":0.37},{"s":"1/1 ms","x":549,"y":0.47},{"s":"1/1 ms","x":550,"y":0.36},{"s":"1/1 ms","x":551,"y":0.45},{"s":"1/1 ms","x":552,"y":0.35},{"s":"1/1 ms","x":553,"y":0.43},{"s":"1/1 ms","x":554,"y":0.32},{"s":"1/1 ms","x":555,"y":0.42},{"s":"1/1 ms","x":556,"y":0.33},{"s":"1/1 ms","x":557,"y":0.39},{"s":"1/1 ms","x":558,"y":0.3},{"s":"1/1 ms","x":559,"y":0.4},{"s":"1/1 ms","x":560,"y":0.28},{"s":"1/1 ms","x":561,"y":0.37},{"s":"1/1 ms","x":562,"y":0.3},{"s":"1/1 ms","x":563,"y":0.25},{"s":"1/1 ms","x":564,"y":0.36},{"s":"1/1 ms","x":565,"y":0.27},{"s":"1/1 ms","x":566,"y":0.33},{"s":"1/1 ms","x":567,"y":0.24},{"s":"1/1 ms","x":568,"y":0.32},{"s":"1/1 ms","x":569,"y":0.22},{"s":"1/1 ms","x":570,"y":0.3},{"s":"1/1 ms","x":571,"y":0.2},{"s":"1/1 ms","x":572,"y":0.28},{"s":"1/1 ms","x":573,"y":0.19},{"s":"1/1 ms","x":574,"y":0.26},{"s":"1/1 ms","x":575,"y":0.17},{"s":"1/1 ms","x":576,"y":0.25},{"s":"1/1 ms","x":577,"y":0.16},{"s":"1/1 ms","x":578,"y":0.27},{"s":"1/1 ms","x":579,"y":0.18},{"s":"1/1 ms","x":580,"y":0.12},{"s":"1/1 ms","x":581,"y":0.24},{"s":"1/1 ms","x":582,"y":0.15},{"s":"1/1 ms","x":583,"y":0.2},{"s":"1/1 ms","x":584,"y":0.1},{"s":"1/1 ms","x":585,"y":0.21},{"s":"1/1 ms","x":586,"y":0.12},{"s":"1/1 ms","x":587,"y":0.18},{"s":"1/1 ms","x":588,"y":0.08},{"s":"1/1 ms","x":589,"y":0.2},{"s":"1/1 ms","x":590,"y":0.1},{"s":"1/1 ms","x":591,"y":0.16},{"s":"1/1 ms","x":592,"y":0.07},{"s":"1/1 ms","x":593,"y":0.15},{"s":"1/1 ms","x":594,"y":0.05},{"s":"1/1 ms","x":595,"y":0.14},{"s":"1/1 ms","x":596,"y":0.08},{"s":"1/1 ms","x":597,"y":0.12},{"s":"1/1 ms","x":598,"y":0.03},{"s":"1/1 ms","x":599,"y":0.11},{"s":"1/1 ms","x":600,"y":0.06},{"s":"1/1 ms","x":601,"y":0.0},{"s":"1/1 ms","x":602,"y":0.1},{"s":"1/1 ms","x":603,"y":0.04},{"s":"1/1 ms","x":604,"y":0.08},{"s":"1/1 ms","x":605,"y":0.0},{"s":"1/1 ms","x":606,"y":0.07},{"s":"1/1 ms","x":607,"y":0.02},{"s":"1/1 ms","x":608,"y":0.09},{"s":"1/1 ms","x":609,"y":0.0},{"s":"1/1 ms","x":610,"y":0.05},{"s":"1/1 ms","x":611,"y":0.08},{"s":"1/1 ms","x":612,"y":0.0},{"s":"1/1 ms","x":613,"y":0.04},{"s":"1/1 ms","x":614,"y":0.0},{"s":"1/1 ms","x":615,"y":0.06},{"s":"1/1 ms","x":616,"y":0.02},{"s":"1/1 ms","x":617,"y":0.0},{"s":"1/1 ms","x":618,"y":0.07},{"s":"1/1 ms","x":619,"y":0.01},{"s":"1/1 ms","x":620,"y":0.04},{"s":"1/1 ms","x":621,"y":0.0},{"s":"1/1 ms","x":622,"y":0.05},{"s":"1/1 ms","x":623,"y":0.0},{"s":"1/1 ms","x":624,"y":0.03},{"s":"1/1 ms","x":625,"y":0.06},{"s":"1/1 ms","x":626,"y":0.0},{"s":"1/1 ms","x":627,"y":0.04},{"s":"1/1 ms","x":628,"y":0.0},{"s":"1/1 ms","x":629,"y":0.05},{"s":"1/1 ms","x":630,"y":0.02},{"s":"1/1 ms","x":631,"y":0.0},{"s":"1/1 ms","x":632,"y":0.06},{"s":"1/1 ms","x":633,"y":0.01},{"s":"1/1 ms","x":634,"y":0.0},{"s":"1/1 ms","x":635,"y":0.07},{"s":"1/1 ms","x":636,"y":0.02},{"s":"1/1 ms","x":637,"y":0.04},{"s":"1/1 ms","x":638,"y":0.0},{"s":"1/1 ms","x":639,"y":0.05},{"s":"1/1 ms","x":640,"y":0.0},{"s":"1/1 ms","x":641,"y":0.03},{"s":"1/1 ms","x":642,"y":0.0},{"s":"1/1 ms","x":643,"y":0.06},{"s":"1/1 ms","x":644,"y":0.01},{"s":"1/1 ms","x":645,"y":0.0},{"s":"1/1 ms","x":646,"y":0.05},{"s":"1/1 ms","x":647,"y":0.0},{"s":"1/1 ms","x":648,"y":0.03},{"s":"1/1 ms","x":649,"y":0.0},{"s":"1/1 ms","x":650,"y":0.02},{"s":"1/1 ms","x":651,"y":0.0},{"s":"1/1 ms","x":652,"y":0.06},{"s":"1/1 ms","x":653,"y":0.11},{"s":"1/1 ms","x":654,"y":0.02},{"s":"1/1 ms","x":655,"y":0.07},{"s":"1/1 ms","x":656,"y":0.0},{"s":"1/1 ms","x":657,"y":0.09},{"s":"1/1 ms","x":658,"y":0.03},{"s":"1/1 ms","x":659,"y":0.0},{"s":"1/1 ms","x":660,"y":0.08},{"s":"1/1 ms","x":661,"y":0.02},{"s":"1/1 ms","x":662,"y":0.1},{"s":"1/1 ms","x":663,"y":0.04},{"s":"1/1 ms","x":664,"y":0.0},{"s":"1/1 ms","x":665,"y":0.13},{"s":"1/1 ms","x":666,"y":0.03},{"s":"1/1 ms","x":667,"y":0.07},{"s":"1/1 ms","x":668,"y":0.0},{"s":"1/1 ms","x":669,"y":0.05},{"s":"1/1 ms","x":670,"y":0.02},{"s":"1/1 ms","x":671,"y":0.08},{"s":"1/1 ms","x":672,"y":0.0},{"s":"1/1 ms","x":673,"y":0.04},{"s":"1/1 ms","x":674,"y":0.01},{"s":"1/1 ms","x":675,"y":0.06},{"s":"1/1 ms","x":676,"y":0.0},{"s":"1/1 ms","x":677,"y":0.03},{"s":"1/1 ms","x":678,"y":0.0},{"s":"1/1 ms","x":679,"y":0.09},{"s":"1/1 ms","x":680,"y":0.02},{"s":"1/1 ms","x":681,"y":0.0},{"s":"1/1 ms","x":682,"y":0.05},{"s":"1/1 ms","x":683,"y":0.01},{"s":"1/1 ms","x":684,"y":0.08},{"s":"1/1 ms","x":685,"y":0.0},{"s":"1/1 ms","x":686,"y":0.04},{"s":"1/1 ms","x":687,"y":0.0},{"s":"1/1 ms","x":688,"y":0.07},{"s":"1/1 ms","x":689,"y":0.02},{"s":"1/1 ms","x":690,"y":0.0},{"s":"1/1 ms","x":691,"y":0.06},{"s":"1/1 ms","x":692,"y":0.01},{"s":"1/1 ms","x":693,"y":0.07}
],
"c": [
{"s":"7/5 ns","x":379.5,"y":0.037},{"s":"7/5 ns","x":394.9,"y":0.041},{"s":"7/5 ns","x":400,"y":0.058},{"s":"7/5 ns","x":405.1,"y":0.093},{"s":"7/5 ns","x":410.2,"y":0.153},{"s":"7/5 ns","x":415.4,"y":0.256},{"s":"7/5 ns","x":420.5,"y":0.402},{"s":"7/5 ns","x":425.6,"y":0.574},{"s":"7/5 ns","x":430.7,"y":0.746},{"s":"7/5 ns","x":435.8,"y":0.867},{"s":"7/5 ns","x":441,"y":0.936},{"s":"7/5 ns","x":446.1,"y":0.974},{"s":"7/5 ns","x":451.2,"y":0.996},{"s":"7/5 ns","x":455,"y":1.0},{"s":"7/5 ns","x":458.9,"y":0.987},{"s":"7/5 ns","x":464,"y":0.944},{"s":"7/5 ns","x":469.1,"y":0.901},{"s":"7/5 ns","x":474.2,"y":0.867},{"s":"7/5 ns","x":479.3,"y":0.824},{"s":"7/5 ns","x":484.5,"y":0.764},{"s":"7/5 ns","x":489.6,"y":0.703},{"s":"7/5 ns","x":494.7,"y":0.643},{"s":"7/5 ns","x":499.8,"y":0.574},{"s":"7/5 ns","x":504.9,"y":0.506},{"s":"7/5 ns","x":510.1,"y":0.445},{"s":"7/5 ns","x":515.2,"y":0.385},{"s":"7/5 ns","x":520.3,"y":0.334},{"s":"7/5 ns","x":525.4,"y":0.291},{"s":"7/5 ns","x":530.5,"y":0.256},{"s":"7/5 ns","x":535.7,"y":0.222},{"s":"7/5 ns","x":540.8,"y":0.192},{"s":"7/5 ns","x":548.5,"y":0.162},{"s":"7/5 ns","x":556.1,"y":0.132},{"s":"7/5 ns","x":563.8,"y":0.11},{"s":"7/5 ns","x":574,"y":0.089},{"s":"7/5 ns","x":584.3,"y":0.074},{"s":"7/5 ns","x":594.5,"y":0.062},{"s":"7/5 ns","x":604.8,"y":0.054},{"s":"7/5 ns","x":617.6,"y":0.046},{"s":"7/5 ns","x":630.4,"y":0.041},{"s":"7/5 ns","x":643.2,"y":0.037},{"s":"7/5 ns","x":656,"y":0.033},{"s":"7/5 ns","x":668.7,"y":0.026},{"s":"7/5 ns","x":681.5,"y":0.02},{"s":"7/5 ns","x":693.1,"y":0.014},
{"s":"27/20 ns","x":379.5,"y":0.033},{"s":"27/20 ns","x":394.9,"y":0.031},{"s":"27/20 ns","x":400,"y":0.037},{"s":"27/20 ns","x":405.1,"y":0.054},{"s":"27/20 ns","x":410.2,"y":0.093},{"s":"27/20 ns","x":415.4,"y":0.17},{"s":"27/20 ns","x":420.5,"y":0.291},{"s":"27/20 ns","x":425.6,"y":0.445},{"s":"27/20 ns","x":430.7,"y":0.626},{"s":"27/20 ns","x":435.8,"y":0.781},{"s":"27/20 ns","x":441,"y":0.901},{"s":"27/20 ns","x":446.1,"y":0.961},{"s":"27/20 ns","x":451.2,"y":0.987},{"s":"27/20 ns","x":455,"y":1.0},{"s":"27/20 ns","x":457.6,"y":0.996},{"s":"27/20 ns","x":461.4,"y":0.974},{"s":"27/20 ns","x":466.5,"y":0.936},{"s":"27/20 ns","x":471.7,"y":0.893},{"s":"27/20 ns","x":476.8,"y":0.85},{"s":"27/20 ns","x":481.9,"y":0.807},{"s":"27/20 ns","x":487,"y":0.746},{"s":"27/20 ns","x":492.1,"y":0.678},{"s":"27/20 ns","x":497.3,"y":0.609},{"s":"27/20 ns","x":502.4,"y":0.531},{"s":"27/20 ns","x":507.5,"y":0.463},{"s":"27/20 ns","x":512.6,"y":0.402},{"s":"27/20 ns","x":517.7,"y":0.351},{"s":"27/20 ns","x":522.9,"y":0.308},{"s":"27/20 ns","x":528,"y":0.269},{"s":"27/20 ns","x":533.1,"y":0.235},{"s":"27/20 ns","x":538.2,"y":0.205},{"s":"27/20 ns","x":543.3,"y":0.179},{"s":"27/20 ns","x":548.5,"y":0.16},{"s":"27/20 ns","x":556.1,"y":0.131},{"s":"27/20 ns","x":563.8,"y":0.112},{"s":"27/20 ns","x":574,"y":0.091},{"s":"27/20 ns","x":584.3,"y":0.075},{"s":"27/20 ns","x":594.5,"y":0.063},{"s":"27/20 ns","x":604.8,"y":0.054},{"s":"27/20 ns","x":617.6,"y":0.046},{"s":"27/20 ns","x":630.4,"y":0.041},{"s":"27/20 ns","x":643.2,"y":0.037},{"s":"27/20 ns","x":656,"y":0.033},{"s":"27/20 ns","x":668.7,"y":0.026},{"s":"27/20 ns","x":681.5,"y":0.019},{"s":"27/20 ns","x":693.1,"y":0.013},
{"s":"0.2/10 μs","x":379.5,"y":0.037},{"s":"0.2/10 μs","x":394.9,"y":0.041},{"s":"0.2/10 μs","x":400,"y":0.054},{"s":"0.2/10 μs","x":405.1,"y":0.084},{"s":"0.2/10 μs","x":410.2,"y":0.144},{"s":"0.2/10 μs","x":415.4,"y":0.239},{"s":"0.2/10 μs","x":420.5,"y":0.368},{"s":"0.2/10 μs","x":425.6,"y":0.506},{"s":"0.2/10 μs","x":430.7,"y":0.643},{"s":"0.2/10 μs","x":435.8,"y":0.764},{"s":"0.2/10 μs","x":441,"y":0.867},{"s":"0.2/10 μs","x":446.1,"y":0.927},{"s":"0.2/10 μs","x":451.2,"y":0.961},{"s":"0.2/10 μs","x":456.3,"y":0.979},{"s":"0.2/10 μs","x":461.4,"y":0.996},{"s":"0.2/10 μs","x":466.5,"y":0.987},{"s":"0.2/10 μs","x":471.7,"y":0.979},{"s":"0.2/10 μs","x":476.8,"y":0.953},{"s":"0.2/10 μs","x":481.9,"y":0.918},{"s":"0.2/10 μs","x":487,"y":0.875},{"s":"0.2/10 μs","x":492.1,"y":0.824},{"s":"0.2/10 μs","x":497.3,"y":0.772},{"s":"0.2/10 μs","x":502.4,"y":0.712},{"s":"0.2/10 μs","x":507.5,"y":0.652},{"s":"0.2/10 μs","x":512.6,"y":0.6},{"s":"0.2/10 μs","x":517.7,"y":0.549},{"s":"0.2/10 μs","x":522.9,"y":0.497},{"s":"0.2/10 μs","x":528,"y":0.454},{"s":"0.2/10 μs","x":533.1,"y":0.402},{"s":"0.2/10 μs","x":538.2,"y":0.365},{"s":"0.2/10 μs","x":543.3,"y":0.334},{"s":"0.2/10 μs","x":548.5,"y":0.308},{"s":"0.2/10 μs","x":556.1,"y":0.265},{"s":"0.2/10 μs","x":563.8,"y":0.235},{"s":"0.2/10 μs","x":574,"y":0.2},{"s":"0.2/10 μs","x":584.3,"y":0.175},{"s":"0.2/10 μs","x":594.5,"y":0.149},{"s":"0.2/10 μs","x":604.8,"y":0.127},{"s":"0.2/10 μs","x":615,"y":0.11},{"s":"0.2/10 μs","x":625.2,"y":0.095},{"s":"0.2/10 μs","x":638,"y":0.08},{"s":"0.2/10 μs","x":650.8,"y":0.069},{"s":"0.2/10 μs","x":663.6,"y":0.06},{"s":"0.2/10 μs","x":676.4,"y":0.054},{"s":"0.2/10 μs","x":693.1,"y":0.048},
{"s":"3/10 μs","x":379.5,"y":0.035},{"s":"3/10 μs","x":394.9,"y":0.04},{"s":"3/10 μs","x":400,"y":0.05},{"s":"3/10 μs","x":405.1,"y":0.078},{"s":"3/10 μs","x":410.2,"y":0.135},{"s":"3/10 μs","x":415.4,"y":0.225},{"s":"3/10 μs","x":420.5,"y":0.342},{"s":"3/10 μs","x":425.6,"y":0.48},{"s":"3/10 μs","x":430.7,"y":0.626},{"s":"3/10 μs","x":435.8,"y":0.746},{"s":"3/10 μs","x":441,"y":0.85},{"s":"3/10 μs","x":446.1,"y":0.91},{"s":"3/10 μs","x":451.2,"y":0.944},{"s":"3/10 μs","x":456.3,"y":0.961},{"s":"3/10 μs","x":461.4,"y":0.97},{"s":"3/10 μs","x":466.5,"y":0.983},{"s":"3/10 μs","x":471.7,"y":0.974},{"s":"3/10 μs","x":476.8,"y":0.957},{"s":"3/10 μs","x":481.9,"y":0.923},{"s":"3/10 μs","x":487,"y":0.884},{"s":"3/10 μs","x":492.1,"y":0.832},{"s":"3/10 μs","x":497.3,"y":0.781},{"s":"3/10 μs","x":502.4,"y":0.721},{"s":"3/10 μs","x":507.5,"y":0.665},{"s":"3/10 μs","x":512.6,"y":0.609},{"s":"3/10 μs","x":517.7,"y":0.556},{"s":"3/10 μs","x":522.9,"y":0.505},{"s":"3/10 μs","x":528,"y":0.46},{"s":"3/10 μs","x":533.1,"y":0.41},{"s":"3/10 μs","x":538.2,"y":0.372},{"s":"3/10 μs","x":543.3,"y":0.34},{"s":"3/10 μs","x":548.5,"y":0.313},{"s":"3/10 μs","x":556.1,"y":0.27},{"s":"3/10 μs","x":563.8,"y":0.24},{"s":"3/10 μs","x":574,"y":0.205},{"s":"3/10 μs","x":584.3,"y":0.178},{"s":"3/10 μs","x":594.5,"y":0.152},{"s":"3/10 μs","x":604.8,"y":0.13},{"s":"3/10 μs","x":615,"y":0.113},{"s":"3/10 μs","x":625.2,"y":0.098},{"s":"3/10 μs","x":638,"y":0.083},{"s":"3/10 μs","x":650.8,"y":0.072},{"s":"3/10 μs","x":663.6,"y":0.063},{"s":"3/10 μs","x":676.4,"y":0.057},{"s":"3/10 μs","x":693.1,"y":0.05},
{"s":"5/10 μs","x":379.5,"y":0.038},{"s":"5/10 μs","x":394.9,"y":0.042},{"s":"5/10 μs","x":400,"y":0.055},{"s":"5/10 μs","x":405.1,"y":0.086},{"s":"5/10 μs","x":410.2,"y":0.148},{"s":"5/10 μs","x":415.4,"y":0.245},{"s":"5/10 μs","x":420.5,"y":0.372},{"s":"5/10 μs","x":425.6,"y":0.51},{"s":"5/10 μs","x":430.7,"y":0.64},{"s":"5/10 μs","x":435.8,"y":0.76},{"s":"5/10 μs","x":441,"y":0.86},{"s":"5/10 μs","x":446.1,"y":0.92},{"s":"5/10 μs","x":451.2,"y":0.955},{"s":"5/10 μs","x":456.3,"y":0.975},{"s":"5/10 μs","x":461.4,"y":0.985},{"s":"5/10 μs","x":465.3,"y":1.0},{"s":"5/10 μs","x":469.1,"y":0.975},{"s":"5/10 μs","x":474.2,"y":0.96},{"s":"5/10 μs","x":479.3,"y":0.935},{"s":"5/10 μs","x":484.5,"y":0.895},{"s":"5/10 μs","x":489.6,"y":0.85},{"s":"5/10 μs","x":494.7,"y":0.8},{"s":"5/10 μs","x":499.8,"y":0.745},{"s":"5/10 μs","x":504.9,"y":0.685},{"s":"5/10 μs","x":510.1,"y":0.628},{"s":"5/10 μs","x":515.2,"y":0.575},{"s":"5/10 μs","x":520.3,"y":0.522},{"s":"5/10 μs","x":525.4,"y":0.475},{"s":"5/10 μs","x":530.5,"y":0.43},{"s":"5/10 μs","x":535.7,"y":0.385},{"s":"5/10 μs","x":540.8,"y":0.35},{"s":"5/10 μs","x":548.5,"y":0.306},{"s":"5/10 μs","x":556.1,"y":0.265},{"s":"5/10 μs","x":563.8,"y":0.234},{"s":"5/10 μs","x":574,"y":0.2},{"s":"5/10 μs","x":584.3,"y":0.172},{"s":"5/10 μs","x":594.5,"y":0.146},{"s":"5/10 μs","x":604.8,"y":0.124},{"s":"5/10 μs","x":615,"y":0.107},{"s":"5/10 μs","x":625.2,"y":0.092},{"s":"5/10 μs","x":638,"y":0.077},{"s":"5/10 μs","x":650.8,"y":0.066},{"s":"5/10 μs","x":663.6,"y":0.057},{"s":"5/10 μs","x":676.4,"y":0.05},{"s":"5/10 μs","x":693.1,"y":0.04},
{"s":"1/1 ms","x":379.5,"y":0.037},{"s":"1/1 ms","x":394.9,"y":0.038},{"s":"1/1 ms","x":400,"y":0.046},{"s":"1/1 ms","x":405.1,"y":0.063},{"s":"1/1 ms","x":410.2,"y":0.11},{"s":"1/1 ms","x":415.4,"y":0.205},{"s":"1/1 ms","x":420.5,"y":0.334},{"s":"1/1 ms","x":425.6,"y":0.471},{"s":"1/1 ms","x":430.7,"y":0.609},{"s":"1/1 ms","x":435.8,"y":0.729},{"s":"1/1 ms","x":441,"y":0.798},{"s":"1/1 ms","x":446.1,"y":0.85},{"s":"1/1 ms","x":451.2,"y":0.901},{"s":"1/1 ms","x":456.3,"y":0.936},{"s":"1/1 ms","x":461.4,"y":0.953},{"s":"1/1 ms","x":466.5,"y":0.97},{"s":"1/1 ms","x":471.7,"y":0.991},{"s":"1/1 ms","x":474.2,"y":1.0},{"s":"1/1 ms","x":476.8,"y":0.979},{"s":"1/1 ms","x":481.9,"y":0.953},{"s":"1/1 ms","x":487,"y":0.918},{"s":"1/1 ms","x":492.1,"y":0.867},{"s":"1/1 ms","x":497.3,"y":0.815},{"s":"1/1 ms","x":502.4,"y":0.764},{"s":"1/1 ms","x":507.5,"y":0.712},{"s":"1/1 ms","x":512.6,"y":0.652},{"s":"1/1 ms","x":517.7,"y":0.6},{"s":"1/1 ms","x":522.9,"y":0.54},{"s":"1/1 ms","x":528,"y":0.488},{"s":"1/1 ms","x":533.1,"y":0.445},{"s":"1/1 ms","x":538.2,"y":0.394},{"s":"1/1 ms","x":543.3,"y":0.351},{"s":"1/1 ms","x":548.5,"y":0.316},{"s":"1/1 ms","x":556.1,"y":0.273},{"s":"1/1 ms","x":563.8,"y":0.239},{"s":"1/1 ms","x":574,"y":0.2},{"s":"1/1 ms","x":584.3,"y":0.17},{"s":"1/1 ms","x":594.5,"y":0.14},{"s":"1/1 ms","x":604.8,"y":0.119},{"s":"1/1 ms","x":615,"y":0.097},{"s":"1/1 ms","x":625.2,"y":0.084},{"s":"1/1 ms","x":638,"y":0.071},{"s":"1/1 ms","x":650.8,"y":0.058},{"s":"1/1 ms","x":663.6,"y":0.05},{"s":"1/1 ms","x":676.4,"y":0.046},{"s":"1/1 ms","x":693.1,"y":0.05}
],
"d": [
{"s":"1a","t":3.53e-9,"c":0.583},{"s":"1a","t":6.58e-9,"c":0.346},{"s":"1a","t":9.75e-9,"c":0.19},{"s":"1a","t":1.39e-8,"c":0.119},{"s":"1a","t":1.84e-8,"c":0.0746},{"s":"1a","t":2.61e-8,"c":0.0322},{"s":"1a","t":3.47e-8,"c":0.01675},{"s":"1a","t":4.29e-8,"c":0.00957},{"s":"1a","t":5.14e-8,"c":0.00546},{"s":"1a","t":6.1e-8,"c":0.00342},{"s":"1a","t":7.21e-8,"c":0.00236},{"s":"1a","t":8.67e-8,"c":0.00178},{"s":"1a","t":1.04e-7,"c":0.00142},{"s":"1a","t":1.27e-7,"c":0.00122},{"s":"1a","t":1.57e-7,"c":0.00111},{"s":"1a","t":1.93e-7,"c":0.00101},{"s":"1a","t":2.39e-7,"c":0.00084},{"s":"1a","t":2.95e-7,"c":0.00077},{"s":"1a","t":3.65e-7,"c":0.00064},{"s":"1a","t":4.51e-7,"c":0.00053},{"s":"1a","t":5.56e-7,"c":0.00046},{"s":"1a","t":6.87e-7,"c":0.00038},{"s":"1a","t":8.49e-7,"c":0.000274},{"s":"1a","t":1.05e-6,"c":0.000228},{"s":"1a","t":1.3e-6,"c":0.000196},{"s":"1a","t":1.6e-6,"c":0.000143},{"s":"1a","t":1.98e-6,"c":0.000114},{"s":"1a","t":2.44e-6,"c":9.8e-5},{"s":"1a","t":3.02e-6,"c":8.6e-5},{"s":"1a","t":3.73e-6,"c":7.1e-5},{"s":"1a","t":4.6e-6,"c":5.6e-5},{"s":"1a","t":5.69e-6,"c":4.6e-5},{"s":"1a","t":7.03e-6,"c":3.9e-5},{"s":"1a","t":8.69e-6,"c":3.0e-5},{"s":"1a","t":1.07e-5,"c":2.4e-5},{"s":"1a","t":1.32e-5,"c":1.93e-5},{"s":"1a","t":1.64e-5,"c":1.51e-5},{"s":"1a","t":2.02e-5,"c":1.26e-5},{"s":"1a","t":2.5e-5,"c":1.04e-5},{"s":"1a","t":3.09e-5,"c":7.9e-6},{"s":"1a","t":3.81e-5,"c":5.9e-6},{"s":"1a","t":4.71e-5,"c":4.5e-6},{"s":"1a","t":5.82e-5,"c":3.4e-6},{"s":"1a","t":7.19e-5,"c":2.56e-6},{"s":"1a","t":8.89e-5,"c":1.83e-6},{"s":"1a","t":1.1e-4,"c":1.33e-6},{"s":"1a","t":1.32e-4,"c":9.2e-7},{"s":"1a","t":1.56e-4,"c":6.3e-7},{"s":"1a","t":1.82e-4,"c":3.95e-7},{"s":"1a","t":2.1e-4,"c":2.48e-7},{"s":"1a","t":2.42e-4,"c":1.71e-7},{"s":"1a","t":2.86e-4,"c":1.29e-7},{"s":"1a","t":3.44e-4,"c":9.7e-8},{"s":"1a","t":4.07e-4,"c":8.4e-8},{"s":"1a","t":4.37e-4,"c":8.9e-8},
{"s":"1b","t":6.38e-9,"c":0.502},{"s":"1b","t":9.75e-9,"c":0.387},{"s":"1b","t":1.39e-8,"c":0.266},{"s":"1b","t":1.89e-8,"c":0.183},{"s":"1b","t":2.44e-8,"c":0.119},{"s":"1b","t":2.88e-8,"c":0.082},{"s":"1b","t":3.47e-8,"c":0.0514},{"s":"1b","t":4.1e-8,"c":0.0322},{"s":"1b","t":4.86e-8,"c":0.0184},{"s":"1b","t":5.68e-8,"c":0.0105},{"s":"1b","t":6.62e-8,"c":0.006},{"s":"1b","t":7.74e-8,"c":0.00312},{"s":"1b","t":9.04e-8,"c":0.00162},{"s":"1b","t":1.04e-7,"c":0.00081},{"s":"1b","t":1.23e-7,"c":0.00044},{"s":"1b","t":1.52e-7,"c":0.00025},{"s":"1b","t":1.88e-7,"c":0.000196},{"s":"1b","t":2.32e-7,"c":0.000172},{"s":"1b","t":2.87e-7,"c":0.000143},{"s":"1b","t":3.55e-7,"c":0.000125},{"s":"1b","t":4.38e-7,"c":0.000114},{"s":"1b","t":5.41e-7,"c":0.000108},{"s":"1b","t":6.68e-7,"c":9.8e-5},{"s":"1b","t":8.26e-7,"c":8.9e-5},{"s":"1b","t":1.02e-6,"c":8.5e-5},{"s":"1b","t":1.26e-6,"c":7.7e-5},{"s":"1b","t":1.56e-6,"c":7.1e-5},{"s":"1b","t":1.92e-6,"c":6.4e-5},{"s":"1b","t":2.38e-6,"c":5.6e-5},{"s":"1b","t":2.94e-6,"c":5.1e-5},{"s":"1b","t":3.62e-6,"c":4.8e-5},{"s":"1b","t":4.48e-6,"c":4.5e-5},{"s":"1b","t":5.53e-6,"c":4.2e-5},{"s":"1b","t":6.84e-6,"c":3.9e-5},{"s":"1b","t":8.45e-6,"c":3.6e-5},{"s":"1b","t":1.04e-5,"c":3.4e-5},{"s":"1b","t":1.29e-5,"c":3.2e-5},{"s":"1b","t":1.59e-5,"c":2.9e-5},{"s":"1b","t":1.97e-5,"c":2.65e-5},{"s":"1b","t":2.43e-5,"c":2.4e-5},{"s":"1b","t":3.0e-5,"c":2.0e-5},{"s":"1b","t":3.71e-5,"c":1.66e-5},{"s":"1b","t":4.58e-5,"c":1.33e-5},{"s":"1b","t":5.66e-5,"c":1.04e-5},{"s":"1b","t":7.0e-5,"c":7.9e-6},{"s":"1b","t":8.63e-5,"c":5.6e-6},{"s":"1b","t":1.07e-4,"c":3.9e-6},{"s":"1b","t":1.28e-4,"c":2.56e-6},{"s":"1b","t":1.52e-4,"c":1.61e-6},{"s":"1b","t":1.8e-4,"c":1.01e-6},{"s":"1b","t":2.1e-4,"c":6.3e-7},{"s":"1b","t":2.42e-4,"c":3.95e-7},{"s":"1b","t":2.78e-4,"c":2.48e-7},{"s":"1b","t":3.21e-4,"c":1.61e-7},{"s":"1b","t":3.69e-4,"c":1.07e-7},{"s":"1b","t":4.25e-4,"c":7.1e-8},{"s":"1b","t":4.89e-4,"c":4.9e-8},{"s":"1b","t":5.79e-4,"c":3.8e-8},{"s":"1b","t":6.85e-4,"c":3.4e-8},
{"s":"1c","t":7.9e-10,"c":1.0},{"s":"1c","t":3.53e-9,"c":0.678},{"s":"1c","t":6.21e-9,"c":0.467},{"s":"1c","t":9.75e-9,"c":0.261},{"s":"1c","t":1.39e-8,"c":0.158},{"s":"1c","t":2.27e-8,"c":0.0533},{"s":"1c","t":2.81e-8,"c":0.0282},{"s":"1c","t":3.37e-8,"c":0.015},{"s":"1c","t":4.1e-8,"c":0.00792},{"s":"1c","t":4.79e-8,"c":0.00376},{"s":"1c","t":5.68e-8,"c":0.00178},{"s":"1c","t":6.71e-8,"c":0.000977},{"s":"1c","t":7.74e-8,"c":0.000601},{"s":"1c","t":9.29e-8,"c":0.000399},{"s":"1c","t":1.1e-7,"c":0.000274},{"s":"1c","t":1.32e-7,"c":0.000196},{"s":"1c","t":1.63e-7,"c":0.000148},{"s":"1c","t":2.02e-7,"c":0.000118},{"s":"1c","t":2.49e-7,"c":0.000108},{"s":"1c","t":3.08e-7,"c":9.8e-5},{"s":"1c","t":3.8e-7,"c":7.4e-5},{"s":"1c","t":4.7e-7,"c":5.6e-5},{"s":"1c","t":5.8e-7,"c":5.1e-5},{"s":"1c","t":7.2e-7,"c":5.3e-5},{"s":"1c","t":8.9e-7,"c":4.6e-5},{"s":"1c","t":1.09e-6,"c":4.1e-5},{"s":"1c","t":1.35e-6,"c":3.2e-5},{"s":"1c","t":1.67e-6,"c":2.65e-5},{"s":"1c","t":2.07e-6,"c":2.33e-5},{"s":"1c","t":2.55e-6,"c":2.0e-5},{"s":"1c","t":3.15e-6,"c":1.82e-5},{"s":"1c","t":3.89e-6,"c":1.66e-5},{"s":"1c","t":4.81e-6,"c":1.6e-5},{"s":"1c","t":5.94e-6,"c":1.26e-5},{"s":"1c","t":7.33e-6,"c":1.14e-5},{"s":"1c","t":9.06e-6,"c":1.04e-5},{"s":"1c","t":1.12e-5,"c":8.2e-6},{"s":"1c","t":1.38e-5,"c":6.8e-6},{"s":"1c","t":1.71e-5,"c":5.9e-6},{"s":"1c","t":2.11e-5,"c":5.4e-6},{"s":"1c","t":2.61e-5,"c":4.9e-6},{"s":"1c","t":3.46e-5,"c":4.5e-6},{"s":"1c","t":4.58e-5,"c":3.7e-6},{"s":"1c","t":6.07e-5,"c":3.2e-6},{"s":"1c","t":8.05e-5,"c":2.8e-6},{"s":"1c","t":1.07e-4,"c":2.34e-6},{"s":"1c","t":1.32e-4,"c":1.83e-6},{"s":"1c","t":1.63e-4,"c":1.33e-6},{"s":"1c","t":2.01e-4,"c":1.11e-6},{"s":"1c","t":2.48e-4,"c":9.2e-7},{"s":"1c","t":3.07e-4,"c":7.2e-7},{"s":"1c","t":3.79e-4,"c":5.2e-7},{"s":"1c","t":4.69e-4,"c":3.7e-7},{"s":"1c","t":5.79e-4,"c":2.6e-7},{"s":"1c","t":7.14e-4,"c":1.87e-7},{"s":"1c","t":8.83e-4,"c":1.29e-7},{"s":"1c","t":1.09e-3,"c":8.9e-8},{"s":"1c","t":1.35e-3,"c":6.1e-8},{"s":"1c","t":1.67e-3,"c":4.4e-8},{"s":"1c","t":2.0e-3,"c":3.2e-8},{"s":"1c","t":2.37e-3,"c":2.4e-8},{"s":"1c","t":2.73e-3,"c":1.65e-8},{"s":"1c","t":3.46e-5,"c":2.65e-5}
]
},
"concat": [
{
"width": 1444, "height": 1100,
"resolve": {"scale": {"y": "independent"}},
"layer": [
{"data": {"name": "a"}, "mark": {"type": "line", "strokeWidth": 4.5, "clip": true},
 "encoding": {
  "x": {"field": "x", "type": "quantitative", "scale": {"domain": [375, 700], "nice": false, "zero": false},
   "axis": {"title": "Wavelength / [nm]", "titleFontSize": 72, "titlePadding": 21, "values": [375,400,425,450,475,500,525,550,575,600,625,650,675,700], "labelExpr": "datum.value % 50 == 0 ? datum.label : ''", "tickSize": {"condition": {"test": "datum.value % 50 == 0", "value": 22}, "value": 12}, "labelPadding": 10}},
  "y": {"field": "y", "type": "quantitative", "scale": {"domain": [0, 1.1], "nice": false, "zero": false},
   "axis": {"title": "Normalized PL / [a.u.]", "titleFontSize": 74, "titlePadding": 31, "values": [0,0.1,0.2,0.3,0.4,0.5,0.6,0.7,0.8,0.9,1.0], "labelExpr": "round(datum.value*10) % 2 == 0 ? format(datum.value, '.1f') : ''", "tickSize": {"condition": {"test": "round(datum.value*10) % 2 == 0", "value": 22}, "value": 12}, "labelPadding": 15}},
  "color": {"field": "s", "type": "nominal", "scale": {"domain": ["7/5 ns","27/20 ns","0.2/10 μs","3/10 μs","5/10 μs","1/1 ms"], "range": ["#000000","#ff1a10","#62e620","#2e4cf5","#7ef2dc","#c23cf0"]}, "legend": null}
 }},
{"data": {"name": "leg"}, "mark": {"type": "rule", "strokeWidth": 5},
 "encoding": {"x": {"datum": 608.6, "type": "quantitative"}, "x2": {"datum": 639.2}, "y": {"field": "s", "type": "nominal", "scale": {"type": "point", "domain": ["7/5 ns","27/20 ns","0.2/10 μs","3/10 μs","5/10 μs","1/1 ms"], "range": [53, 408], "padding": 0}, "axis": null}, "color": {"field": "s", "type": "nominal", "legend": null}}},
{"data": {"name": "leg"}, "mark": {"type": "text", "align": "left", "baseline": "middle", "fontSize": 55, "fontWeight": "bold", "font": "Liberation Sans", "color": "black"},
 "encoding": {"x": {"datum": 642.2, "type": "quantitative"}, "y": {"field": "s", "type": "nominal", "scale": {"type": "point", "domain": ["7/5 ns","27/20 ns","0.2/10 μs","3/10 μs","5/10 μs","1/1 ms"], "range": [53, 408], "padding": 0}, "axis": null}, "text": {"field": "s"}}},
{"data": {"values": [{}]}, "mark": {"type": "text", "align": "left", "baseline": "middle", "fontSize": 57, "fontWeight": "bold", "font": "Liberation Sans", "color": "black"},
 "encoding": {"x": {"datum": 378, "type": "quantitative"}, "y": {"datum": 1.058, "type": "quantitative", "scale": {"domain": [0, 1.1], "nice": false, "zero": false}, "axis": null}, "text": {"value": "1a, neat film, ex=355 nm, r.t."}}},
{"data": {"values": [{}]}, "mark": {"type": "text", "align": "left", "baseline": "middle", "fontSize": 70, "fontWeight": "bold", "font": "Liberation Sans", "color": "black"},
 "encoding": {"x": {"datum": 328.2, "type": "quantitative"}, "y": {"datum": 1.048, "type": "quantitative", "scale": {"domain": [0, 1.1], "nice": false, "zero": false}, "axis": null}, "text": {"value": "(a)"}}}
]
},
{
"width": 1417, "height": 1100,
"resolve": {"scale": {"y": "independent"}},
"layer": [
{"data": {"name": "b"}, "mark": {"type": "line", "strokeWidth": 4.5, "clip": true},
 "encoding": {
  "x": {"field": "x", "type": "quantitative", "scale": {"domain": [375, 700], "nice": false, "zero": false},
   "axis": {"title": "Wavelength / [nm]", "titleFontSize": 72, "titlePadding": 21, "values": [375,400,425,450,475,500,525,550,575,600,625,650,675,700], "labelExpr": "datum.value % 50 == 0 ? datum.label : ''", "tickSize": {"condition": {"test": "datum.value % 50 == 0", "value": 22}, "value": 12}, "labelPadding": 10}},
  "y": {"field": "y", "type": "quantitative", "scale": {"domain": [0, 1.1], "nice": false, "zero": false},
   "axis": {"title": "Normalized PL / [a.u.]", "titleFontSize": 74, "titlePadding": 62, "values": [0,0.1,0.2,0.3,0.4,0.5,0.6,0.7,0.8,0.9,1.0], "labelExpr": "round(datum.value*10) % 2 == 0 ? format(datum.value, '.1f') : ''", "tickSize": {"condition": {"test": "round(datum.value*10) % 2 == 0", "value": 22}, "value": 12}, "labelPadding": 15}},
  "color": {"field": "s", "type": "nominal", "scale": {"domain": ["7/5 ns","27/20 ns","0.2/10 μs","3/10 μs","5/10 μs","1/1 ms"], "range": ["#000000","#ff1a10","#62e620","#2e4cf5","#7ef2dc","#c23cf0"]}, "legend": null}
 }},
{"data": {"name": "leg"}, "mark": {"type": "rule", "strokeWidth": 5},
 "encoding": {"x": {"datum": 615.6, "type": "quantitative"}, "x2": {"datum": 643.8}, "y": {"field": "s", "type": "nominal", "scale": {"type": "point", "domain": ["7/5 ns","27/20 ns","0.2/10 μs","3/10 μs","5/10 μs","1/1 ms"], "range": [57, 391], "padding": 0}, "axis": null}, "color": {"field": "s", "type": "nominal", "legend": null}}},
{"data": {"name": "leg"}, "mark": {"type": "text", "align": "left", "baseline": "middle", "fontSize": 51, "fontWeight": "bold", "font": "Liberation Sans", "color": "black"},
 "encoding": {"x": {"datum": 647.5, "type": "quantitative"}, "y": {"field": "s", "type": "nominal", "scale": {"type": "point", "domain": ["7/5 ns","27/20 ns","0.2/10 μs","3/10 μs","5/10 μs","1/1 ms"], "range": [57, 391], "padding": 0}, "axis": null}, "text": {"field": "s"}}},
{"data": {"values": [{}]}, "mark": {"type": "text", "align": "left", "baseline": "middle", "fontSize": 52, "fontWeight": "bold", "font": "Liberation Sans", "color": "black"},
 "encoding": {"x": {"datum": 377.1, "type": "quantitative"}, "y": {"datum": 1.055, "type": "quantitative", "scale": {"domain": [0, 1.1], "nice": false, "zero": false}, "axis": null}, "text": {"value": "1b, neat film, ex=355 nm, r.t."}}},
{"data": {"values": [{}]}, "mark": {"type": "text", "align": "left", "baseline": "middle", "fontSize": 70, "fontWeight": "bold", "font": "Liberation Sans", "color": "black"},
 "encoding": {"x": {"datum": 332.3, "type": "quantitative"}, "y": {"datum": 1.051, "type": "quantitative", "scale": {"domain": [0, 1.1], "nice": false, "zero": false}, "axis": null}, "text": {"value": "(b)"}}}
]
},
{
"width": 1444, "height": 1085,
"resolve": {"scale": {"y": "independent"}},
"layer": [
{"data": {"name": "c"}, "mark": {"type": "line", "strokeWidth": 4.5, "clip": true},
 "encoding": {
  "x": {"field": "x", "type": "quantitative", "scale": {"domain": [375, 700], "nice": false, "zero": false},
   "axis": {"title": "Wavelength / [nm]", "titleFontSize": 72, "titlePadding": 21, "values": [375,400,425,450,475,500,525,550,575,600,625,650,675,700], "labelExpr": "datum.value % 50 == 0 ? datum.label : ''", "tickSize": {"condition": {"test": "datum.value % 50 == 0", "value": 22}, "value": 12}, "labelPadding": 10}},
  "y": {"field": "y", "type": "quantitative", "scale": {"domain": [0, 1.1], "nice": false, "zero": false},
   "axis": {"title": "Normalized PL / [a.u.]", "titleFontSize": 74, "titlePadding": 32, "values": [0,0.1,0.2,0.3,0.4,0.5,0.6,0.7,0.8,0.9,1.0], "labelExpr": "round(datum.value*10) % 2 == 0 ? format(datum.value, '.1f') : ''", "tickSize": {"condition": {"test": "round(datum.value*10) % 2 == 0", "value": 22}, "value": 12}, "labelPadding": 15}},
  "color": {"field": "s", "type": "nominal", "scale": {"domain": ["7/5 ns","27/20 ns","0.2/10 μs","3/10 μs","5/10 μs","1/1 ms"], "range": ["#000000","#ff1a10","#62e620","#2e4cf5","#7ef2dc","#c23cf0"]}, "legend": null}
 }},
{"data": {"name": "leg"}, "mark": {"type": "rule", "strokeWidth": 5},
 "encoding": {"x": {"datum": 612.5, "type": "quantitative"}, "x2": {"datum": 643.1}, "y": {"field": "s", "type": "nominal", "scale": {"type": "point", "domain": ["7/5 ns","27/20 ns","0.2/10 μs","3/10 μs","5/10 μs","1/1 ms"], "range": [46, 406], "padding": 0}, "axis": null}, "color": {"field": "s", "type": "nominal", "legend": null}}},
{"data": {"name": "leg"}, "mark": {"type": "text", "align": "left", "baseline": "middle", "fontSize": 57, "fontWeight": "bold", "font": "Liberation Sans", "color": "black"},
 "encoding": {"x": {"datum": 646.2, "type": "quantitative"}, "y": {"field": "s", "type": "nominal", "scale": {"type": "point", "domain": ["7/5 ns","27/20 ns","0.2/10 μs","3/10 μs","5/10 μs","1/1 ms"], "range": [46, 406], "padding": 0}, "axis": null}, "text": {"field": "s"}}},
{"data": {"values": [{}]}, "mark": {"type": "text", "align": "left", "baseline": "middle", "fontSize": 57, "fontWeight": "bold", "font": "Liberation Sans", "color": "black"},
 "encoding": {"x": {"datum": 383, "type": "quantitative"}, "y": {"datum": 1.051, "type": "quantitative", "scale": {"domain": [0, 1.1], "nice": false, "zero": false}, "axis": null}, "text": {"value": "1c, neat film, ex=355 nm, r.t."}}},
{"data": {"values": [{}]}, "mark": {"type": "text", "align": "left", "baseline": "middle", "fontSize": 70, "fontWeight": "bold", "font": "Liberation Sans", "color": "black"},
 "encoding": {"x": {"datum": 335.8, "type": "quantitative"}, "y": {"datum": 1.064, "type": "quantitative", "scale": {"domain": [0, 1.1], "nice": false, "zero": false}, "axis": null}, "text": {"value": "(c)"}}}
]
},
{
"width": 1449, "height": 1044,
"layer": [
{"data": {"name": "d"}, "mark": {"type": "point", "filled": true, "size": 700, "opacity": 1},
 "encoding": {
  "x": {"field": "t", "type": "quantitative", "scale": {"type": "log", "domain": [1e-10, 1e-2], "nice": false},
   "axis": {"title": "Time / [s]", "titleFontSize": 60, "titlePadding": 42, "labelFontSize": 52,
    "values": [1e-10,2e-10,3e-10,4e-10,5e-10,6e-10,7e-10,8e-10,9e-10,1e-9,2e-9,3e-9,4e-9,5e-9,6e-9,7e-9,8e-9,9e-9,1e-8,2e-8,3e-8,4e-8,5e-8,6e-8,7e-8,8e-8,9e-8,1e-7,2e-7,3e-7,4e-7,5e-7,6e-7,7e-7,8e-7,9e-7,1e-6,2e-6,3e-6,4e-6,5e-6,6e-6,7e-6,8e-6,9e-6,1e-5,2e-5,3e-5,4e-5,5e-5,6e-5,7e-5,8e-5,9e-5,1e-4,2e-4,3e-4,4e-4,5e-4,6e-4,7e-4,8e-4,9e-4,1e-3,2e-3,3e-3,4e-3,5e-3,6e-3,7e-3,8e-3,9e-3,1e-2],
    "labelExpr": "abs(log(datum.value)/LN10 - round(log(datum.value)/LN10)) < 0.01 ? '10' + (datum.value < 1 ? '⁻' : '') + ['⁰','¹','²','³','⁴','⁵','⁶','⁷','⁸','⁹','¹⁰'][abs(round(log(datum.value)/LN10))] : ''",
    "tickSize": {"condition": {"test": "abs(log(datum.value)/LN10 - round(log(datum.value)/LN10)) < 0.01", "value": -20}, "value": -10},
    "labelPadding": 43}},
  "y": {"field": "c", "type": "quantitative", "scale": {"type": "log", "domain": [1e-9, 10], "nice": false},
   "axis": {"title": "Counts / [a.u.]", "titleFontSize": 60, "titlePadding": 28, "titleY": 560,
    "values": [1e-9,2e-9,3e-9,4e-9,5e-9,6e-9,7e-9,8e-9,9e-9,1e-8,2e-8,3e-8,4e-8,5e-8,6e-8,7e-8,8e-8,9e-8,1e-7,2e-7,3e-7,4e-7,5e-7,6e-7,7e-7,8e-7,9e-7,1e-6,2e-6,3e-6,4e-6,5e-6,6e-6,7e-6,8e-6,9e-6,1e-5,2e-5,3e-5,4e-5,5e-5,6e-5,7e-5,8e-5,9e-5,1e-4,2e-4,3e-4,4e-4,5e-4,6e-4,7e-4,8e-4,9e-4,1e-3,2e-3,3e-3,4e-3,5e-3,6e-3,7e-3,8e-3,9e-3,1e-2,2e-2,3e-2,4e-2,5e-2,6e-2,7e-2,8e-2,9e-2,0.1,0.2,0.3,0.4,0.5,0.6,0.7,0.8,0.9,1,2,3,4,5,6,7,8,9,10],
    "labelExpr": "abs(log(datum.value)/LN10 - round(log(datum.value)/LN10)) < 0.01 ? '10' + (datum.value < 1 ? '⁻' : '') + ['⁰','¹','²','³','⁴','⁵','⁶','⁷','⁸','⁹','¹⁰'][abs(round(log(datum.value)/LN10))] : ''",
    "tickSize": {"condition": {"test": "abs(log(datum.value)/LN10 - round(log(datum.value)/LN10)) < 0.01", "value": -20}, "value": -10},
    "labelPadding": 43}},
  "color": {"field": "s", "type": "nominal", "scale": {"domain": ["1a","1b","1c"], "range": ["#22a322","#2a47f2","#c54be8"]},
   "legend": {"orient": "none", "legendX": 58, "legendY": 843, "direction": "vertical", "title": null, "symbolType": "circle", "symbolSize": 700, "labelFontSize": 54, "labelOffset": 48, "rowPadding": 11}}
 }},
{"data": {"name": "d"}, "mark": {"type": "point", "filled": true, "size": 130, "color": "white", "opacity": 0.4, "xOffset": -5, "yOffset": -5},
 "encoding": {"x": {"field": "t", "type": "quantitative"}, "y": {"field": "c", "type": "quantitative"}}},
{"data": {"name": "d"}, "mark": {"type": "point", "filled": true, "size": 22, "color": "white", "opacity": 0.9, "xOffset": -5, "yOffset": -5},
 "encoding": {"x": {"field": "t", "type": "quantitative"}, "y": {"field": "c", "type": "quantitative"}}},
{"data": {"values": [{}]}, "mark": {"type": "text", "align": "center", "baseline": "middle", "fontSize": 50, "fontWeight": "bold", "font": "Liberation Sans", "color": "black"},
 "encoding": {"x": {"datum": 1.45e-6, "type": "quantitative"}, "y": {"datum": 1.8, "type": "quantitative"}, "text": {"value": "Neat films, ex = 355 nm, r.t."}}},
{"data": {"values": [{}]}, "mark": {"type": "text", "align": "left", "baseline": "middle", "fontSize": 66, "fontWeight": "bold", "font": "Liberation Sans", "color": "black"},
 "encoding": {"x": {"datum": 8.6e-12, "type": "quantitative"}, "y": {"datum": 8.0, "type": "quantitative"}, "text": {"value": "(d)"}}}
]
}
],
"config": {
 "view": {"stroke": "black", "strokeWidth": 4},
 "font": "Liberation Sans",
 "axis": {"domainColor": "black", "domainWidth": 4, "tickColor": "black", "tickWidth": 4, "labelFont": "Liberation Sans", "labelFontWeight": "bold", "labelFontSize": 54, "labelColor": "black", "titleFont": "Liberation Sans", "titleFontWeight": "bold", "titleColor": "black", "grid": false, "labelFlush": false, "labelOverlap": false, "labelBound": false},
 "legend": {"labelFont": "Liberation Sans", "labelFontWeight": "bold", "labelColor": "black", "padding": 0, "labelLimit": 600}
}
}
